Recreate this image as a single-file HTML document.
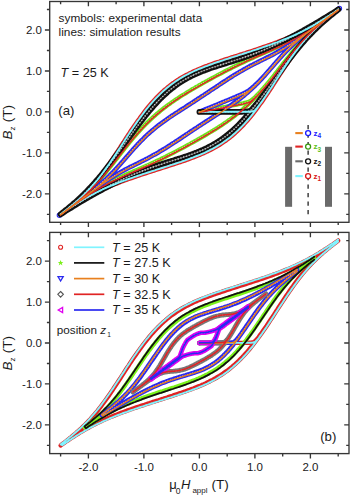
<!DOCTYPE html><html><head><meta charset="utf-8"><style>html,body{margin:0;padding:0;background:#fff;}svg{display:block;}</style></head><body><svg width="350" height="497" viewBox="0 0 350 497">
<defs><clipPath id="ct"><rect x="50" y="2" width="298.5" height="220"/></clipPath><clipPath id="cb"><rect x="50" y="233" width="298.5" height="220"/></clipPath><path id="tz1" d="M338.2,9.5l-1.7,1.2 -1.8,1.3 -1.7,1.2 -1.8,1.1 -1.7,1.2 -1.8,1.2 -1.7,1.1 -1.8,1.1 -1.7,1.1 -1.8,1.1 -1.7,1.1 -1.8,1 -1.7,1.1 -1.7,1 -1.8,1 -1.7,.9 -1.8,1 -1.7,.9 -1.8,.9 -1.7,.9 -1.8,.9 -1.7,.8 -1.8,.9 -1.7,.8 -1.7,.8 -1.8,.8 -1.7,.7 -1.8,.8 -1.7,.7 -1.8,.7 -1.7,.7 -1.8,.7 -1.7,.7 -1.8,.7 -1.7,.7 -1.8,.6 -1.7,.6 -1.7,.7 -1.8,.6 -1.7,.6 -1.8,.6 -1.7,.6 -1.8,.6 -1.7,.6 -1.8,.6 -1.7,.6 -1.8,.6 -1.7,.5 -1.7,.6 -1.8,.6 -1.7,.5 -1.8,.6 -1.7,.6 -1.8,.5 -1.7,.6 -1.8,.5 -1.7,.6 -1.8,.6 -1.7,.5 -1.8,.6 -1.7,.5 -1.7,.6 -1.8,.6 -1.7,.5 -1.8,.6 -1.7,.6 -1.8,.6 -1.7,.6 -1.8,.5 -1.7,.6 -1.8,.6 -1.7,.7 -1.8,.6 -1.7,.6 -1.7,.7 -1.8,.6 -1.7,.7 -1.8,.7 -1.7,.7 -1.8,.7 -1.7,.8 -1.8,.7 -1.7,.8 -1.8,.9 -1.7,.8 -1.7,.9 -1.8,.9 -1.7,.9 -1.8,1 -1.7,1 -1.8,1.1 -1.7,1.1 -1.8,1.2 -1.7,1.2 -1.8,1.2 -1.7,1.3 -1.8,1.4 -1.7,1.4 -1.7,1.5 -1.8,1.5 -1.7,1.6 -1.8,1.7 -1.7,1.7 -1.8,1.8 -1.7,1.8 -1.8,2 -1.7,1.9 -1.8,2.1 -1.7,2.1 -1.8,2.2 -1.7,2.2 -1.7,2.3 -1.8,2.4 -1.7,2.4 -1.8,2.4 -1.7,2.5 -1.8,2.6 -1.7,2.5 -1.8,2.6 -1.7,2.7 -1.8,2.6 -1.7,2.7 -1.7,2.7 -1.8,2.7 -1.7,2.7 -1.8,2.7 -1.7,2.6 -1.8,2.7 -1.7,2.6 -1.8,2.6 -1.7,2.6 -1.8,2.5 -1.7,2.4 -1.8,2.5 -1.7,2.3 -1.7,2.3 -1.8,2.3 -1.7,2.2 -1.8,2.1 -1.7,2.1 -1.8,2 -1.7,1.9 -1.8,1.9 -1.7,1.8 -1.8,1.8 -1.7,1.7 -1.7,1.7 -1.8,1.6 -1.7,1.6 -1.8,1.5 -1.7,1.5 -1.8,1.5 -1.7,1.4 -1.8,1.4 -1.7,1.4 -1.8,1.4 -1.7,1.3 -1.8,1.4 -1.7,1.3 1.7,-1.2 1.8,-1.3 1.7,-1.2 1.8,-1.1 1.7,-1.2 1.8,-1.2 1.7,-1.1 1.8,-1.1 1.7,-1.1 1.8,-1.1 1.7,-1.1 1.8,-1 1.7,-1.1 1.7,-1 1.8,-1 1.7,-.9 1.8,-1 1.7,-.9 1.8,-.9 1.7,-.9 1.8,-.9 1.7,-.8 1.8,-.9 1.7,-.8 1.7,-.8 1.8,-.8 1.7,-.7 1.8,-.8 1.7,-.7 1.8,-.7 1.7,-.7 1.8,-.7 1.7,-.7 1.8,-.7 1.7,-.7 1.8,-.6 1.7,-.6 1.7,-.7 1.8,-.6 1.7,-.6 1.8,-.6 1.7,-.6 1.8,-.6 1.7,-.6 1.8,-.6 1.7,-.6 1.8,-.6 1.7,-.5 1.7,-.6 1.8,-.6 1.7,-.5 1.8,-.6 1.7,-.6 1.8,-.5 1.7,-.6 1.8,-.5 1.7,-.6 1.8,-.6 1.7,-.5 1.8,-.6 1.7,-.5 1.7,-.6 1.8,-.6 1.7,-.5 1.8,-.6 1.7,-.6 1.8,-.6 1.7,-.6 1.8,-.5 1.7,-.6 1.8,-.6 1.7,-.7 1.8,-.6 1.7,-.6 1.7,-.7 1.8,-.6 1.7,-.7 1.8,-.7 1.7,-.7 1.8,-.7 1.7,-.8 1.8,-.7 1.7,-.8 1.8,-.9 1.7,-.8 1.7,-.9 1.8,-.9 1.7,-.9 1.8,-1 1.7,-1 1.8,-1.1 1.7,-1.1 1.8,-1.2 1.7,-1.2 1.8,-1.2 1.7,-1.3 1.8,-1.4 1.7,-1.4 1.7,-1.5 1.8,-1.5 1.7,-1.6 1.8,-1.7 1.7,-1.7 1.8,-1.8 1.7,-1.8 1.8,-2 1.7,-1.9 1.8,-2.1 1.7,-2.1 1.8,-2.2 1.7,-2.2 1.7,-2.3 1.8,-2.4 1.7,-2.4 1.8,-2.4 1.7,-2.5 1.8,-2.6 1.7,-2.5 1.8,-2.6 1.7,-2.7 1.8,-2.6 1.7,-2.7 1.7,-2.7 1.8,-2.7 1.7,-2.7 1.8,-2.7 1.7,-2.6 1.8,-2.7 1.7,-2.6 1.8,-2.6 1.7,-2.6 1.8,-2.5 1.7,-2.4 1.8,-2.5 1.7,-2.3 1.7,-2.3 1.8,-2.3 1.7,-2.2 1.8,-2.1 1.7,-2.1 1.8,-2 1.7,-1.9 1.8,-1.9 1.7,-1.8 1.8,-1.8 1.7,-1.7 1.7,-1.7 1.8,-1.6 1.7,-1.6 1.8,-1.5 1.7,-1.5 1.8,-1.5 1.7,-1.4 1.8,-1.4 1.7,-1.4 1.8,-1.4 1.7,-1.3 1.8,-1.4 1.7,-1.3M199.4,111.9l1.6,0 1.5,0 1.6,0 1.5,0 1.6,0 1.6,0 1.5,0 1.6,0 1.5,0 1.6,0 1.6,0 1.5,0 1.6,0 1.5,0 1.6,0 1.6,-.1 1.5,0 1.6,0 1.5,0 1.6,0 1.6,0 1.5,0 1.6,0 1.5,0 1.6,0 1.5,0 1.6,0 1.6,0 1.5,0 1.6,0 1.5,-.1 1.6,0 1.6,-.1 1.5,-.2 1.6,-.5 1.5,-1.2 1.6,-1.8 1.6,-2 1.5,-2.1 1.6,-2.1 1.5,-2.2 1.6,-2.3 1.6,-2.3 1.5,-2.3 1.6,-2.4 1.5,-2.3 1.6,-2.4 1.6,-2.4 1.5,-2.4 1.6,-2.4 1.5,-2.4 1.6,-2.4 1.6,-2.4 1.5,-2.3 1.6,-2.4 1.5,-2.3 1.6,-2.3 1.6,-2.3 1.5,-2.2 1.6,-2.2 1.5,-2.2 1.6,-2.1 1.6,-2 1.5,-2.1 1.6,-1.9 1.5,-2 1.6,-1.8 1.5,-1.9 1.6,-1.8 1.6,-1.7 1.5,-1.7 1.6,-1.6 1.5,-1.6 1.6,-1.5 1.6,-1.6 1.5,-1.4 1.6,-1.5 1.5,-1.4 1.6,-1.3 1.6,-1.4 1.5,-1.3 1.6,-1.3 1.5,-1.2 1.6,-1.3 1.6,-1.2 1.5,-1.2 1.6,-1.2 1.5,-1.2 1.6,-1.2"/><path id="tz3" d="M338.2,9.5l-1.7,1.3 -1.8,1.3 -1.7,1.3 -1.8,1.2 -1.7,1.3 -1.8,1.3 -1.7,1.2 -1.8,1.3 -1.7,1.2 -1.8,1.2 -1.7,1.3 -1.8,1.2 -1.7,1.2 -1.7,1.1 -1.8,1.2 -1.7,1.1 -1.8,1.2 -1.7,1.1 -1.8,1.1 -1.7,1 -1.8,1.1 -1.7,1 -1.8,1 -1.7,1 -1.7,.9 -1.8,1 -1.7,.9 -1.8,.9 -1.7,.9 -1.8,.8 -1.7,.9 -1.8,.8 -1.7,.8 -1.8,.8 -1.7,.8 -1.8,.8 -1.7,.8 -1.7,.8 -1.8,.7 -1.7,.8 -1.8,.7 -1.7,.8 -1.8,.8 -1.7,.7 -1.8,.8 -1.7,.7 -1.8,.8 -1.7,.8 -1.7,.8 -1.8,.7 -1.7,.8 -1.8,.8 -1.7,.8 -1.8,.9 -1.7,.8 -1.8,.8 -1.7,.8 -1.8,.9 -1.7,.8 -1.8,.9 -1.7,.9 -1.7,.9 -1.8,.8 -1.7,.9 -1.8,.9 -1.7,.9 -1.8,1 -1.7,.9 -1.8,.9 -1.7,.9 -1.8,1 -1.7,.9 -1.8,1 -1.7,.9 -1.7,1 -1.8,.9 -1.7,1 -1.8,1 -1.7,1 -1.8,1 -1.7,1 -1.8,1 -1.7,1 -1.8,1 -1.7,1.1 -1.7,1 -1.8,1.1 -1.7,1.1 -1.8,1 -1.7,1.1 -1.8,1.2 -1.7,1.1 -1.8,1.2 -1.7,1.1 -1.8,1.2 -1.7,1.3 -1.8,1.2 -1.7,1.3 -1.7,1.3 -1.8,1.3 -1.7,1.4 -1.8,1.4 -1.7,1.5 -1.8,1.4 -1.7,1.6 -1.8,1.5 -1.7,1.6 -1.8,1.7 -1.7,1.7 -1.8,1.7 -1.7,1.8 -1.7,1.8 -1.8,1.9 -1.7,1.9 -1.8,1.9 -1.7,2 -1.8,2.1 -1.7,2 -1.8,2.1 -1.7,2.2 -1.8,2.1 -1.7,2.2 -1.7,2.2 -1.8,2.3 -1.7,2.2 -1.8,2.2 -1.7,2.3 -1.8,2.2 -1.7,2.2 -1.8,2.2 -1.7,2.2 -1.8,2.2 -1.7,2.1 -1.8,2.2 -1.7,2 -1.7,2.1 -1.8,1.9 -1.7,2 -1.8,1.9 -1.7,1.8 -1.8,1.8 -1.7,1.8 -1.8,1.7 -1.7,1.7 -1.8,1.6 -1.7,1.6 -1.7,1.5 -1.8,1.5 -1.7,1.5 -1.8,1.4 -1.7,1.5 -1.8,1.4 -1.7,1.3 -1.8,1.4 -1.7,1.3 -1.8,1.3 -1.7,1.4 -1.8,1.3 -1.7,1.3 1.7,-1.3 1.8,-1.3 1.7,-1.3 1.8,-1.2 1.7,-1.3 1.8,-1.3 1.7,-1.2 1.8,-1.3 1.7,-1.2 1.8,-1.2 1.7,-1.3 1.8,-1.2 1.7,-1.2 1.7,-1.1 1.8,-1.2 1.7,-1.1 1.8,-1.2 1.7,-1.1 1.8,-1.1 1.7,-1 1.8,-1.1 1.7,-1 1.8,-1 1.7,-1 1.7,-.9 1.8,-1 1.7,-.9 1.8,-.9 1.7,-.9 1.8,-.8 1.7,-.9 1.8,-.8 1.7,-.8 1.8,-.8 1.7,-.8 1.8,-.8 1.7,-.8 1.7,-.8 1.8,-.7 1.7,-.8 1.8,-.7 1.7,-.8 1.8,-.8 1.7,-.7 1.8,-.8 1.7,-.7 1.8,-.8 1.7,-.8 1.7,-.8 1.8,-.7 1.7,-.8 1.8,-.8 1.7,-.8 1.8,-.9 1.7,-.8 1.8,-.8 1.7,-.8 1.8,-.9 1.7,-.8 1.8,-.9 1.7,-.9 1.7,-.9 1.8,-.8 1.7,-.9 1.8,-.9 1.7,-.9 1.8,-1 1.7,-.9 1.8,-.9 1.7,-.9 1.8,-1 1.7,-.9 1.8,-1 1.7,-.9 1.7,-1 1.8,-.9 1.7,-1 1.8,-1 1.7,-1 1.8,-1 1.7,-1 1.8,-1 1.7,-1 1.8,-1 1.7,-1.1 1.7,-1 1.8,-1.1 1.7,-1.1 1.8,-1 1.7,-1.1 1.8,-1.2 1.7,-1.1 1.8,-1.2 1.7,-1.1 1.8,-1.2 1.7,-1.3 1.8,-1.2 1.7,-1.3 1.7,-1.3 1.8,-1.3 1.7,-1.4 1.8,-1.4 1.7,-1.5 1.8,-1.4 1.7,-1.6 1.8,-1.5 1.7,-1.6 1.8,-1.7 1.7,-1.7 1.8,-1.7 1.7,-1.8 1.7,-1.8 1.8,-1.9 1.7,-1.9 1.8,-1.9 1.7,-2 1.8,-2.1 1.7,-2 1.8,-2.1 1.7,-2.2 1.8,-2.1 1.7,-2.2 1.7,-2.2 1.8,-2.3 1.7,-2.2 1.8,-2.2 1.7,-2.3 1.8,-2.2 1.7,-2.2 1.8,-2.2 1.7,-2.2 1.8,-2.2 1.7,-2.1 1.8,-2.2 1.7,-2 1.7,-2.1 1.8,-1.9 1.7,-2 1.8,-1.9 1.7,-1.8 1.8,-1.8 1.7,-1.8 1.8,-1.7 1.7,-1.7 1.8,-1.6 1.7,-1.6 1.7,-1.5 1.8,-1.5 1.7,-1.5 1.8,-1.4 1.7,-1.5 1.8,-1.4 1.7,-1.3 1.8,-1.4 1.7,-1.3 1.8,-1.3 1.7,-1.4 1.8,-1.3 1.7,-1.3M199.4,111.9l1.6,-.4 1.5,-.3 1.6,-.3 1.5,-.3 1.6,-.3 1.6,-.3 1.5,-.3 1.6,-.3 1.5,-.3 1.6,-.3 1.6,-.3 1.5,-.3 1.6,-.3 1.5,-.3 1.6,-.3 1.6,-.3 1.5,-.3 1.6,-.3 1.5,-.3 1.6,-.3 1.6,-.3 1.5,-.3 1.6,-.3 1.5,-.3 1.6,-.4 1.5,-.3 1.6,-.3 1.6,-.3 1.5,-.4 1.6,-.4 1.5,-.4 1.6,-.6 1.6,-.8 1.5,-1.2 1.6,-1.3 1.5,-1.5 1.6,-1.6 1.6,-1.6 1.5,-1.7 1.6,-1.8 1.5,-1.7 1.6,-1.8 1.6,-1.9 1.5,-1.8 1.6,-1.9 1.5,-1.9 1.6,-2 1.6,-1.9 1.5,-2 1.6,-2 1.5,-2 1.6,-2 1.6,-2 1.5,-2 1.6,-2 1.5,-1.9 1.6,-2 1.6,-2 1.5,-1.9 1.6,-1.9 1.5,-1.9 1.6,-1.8 1.6,-1.8 1.5,-1.8 1.6,-1.8 1.5,-1.7 1.6,-1.7 1.5,-1.6 1.6,-1.6 1.6,-1.6 1.5,-1.5 1.6,-1.5 1.5,-1.4 1.6,-1.5 1.6,-1.4 1.5,-1.3 1.6,-1.4 1.5,-1.3 1.6,-1.3 1.6,-1.2 1.5,-1.3 1.6,-1.2 1.5,-1.2 1.6,-1.2 1.6,-1.2 1.5,-1.2 1.6,-1.2 1.5,-1.1 1.6,-1.2"/><path id="tz4" d="M338.2,9.5l-1.7,1.3 -1.8,1.3 -1.7,1.3 -1.8,1.3 -1.7,1.3 -1.8,1.3 -1.7,1.2 -1.8,1.3 -1.7,1.3 -1.8,1.3 -1.7,1.3 -1.8,1.3 -1.7,1.3 -1.7,1.2 -1.8,1.3 -1.7,1.3 -1.8,1.3 -1.7,1.3 -1.8,1.2 -1.7,1.3 -1.8,1.3 -1.7,1.2 -1.8,1.2 -1.7,1.3 -1.7,1.2 -1.8,1.2 -1.7,1.1 -1.8,1.2 -1.7,1.1 -1.8,1.1 -1.7,1.1 -1.8,1.1 -1.7,1 -1.8,1 -1.7,1 -1.8,.9 -1.7,1 -1.7,.9 -1.8,.9 -1.7,.9 -1.8,.8 -1.7,.9 -1.8,.9 -1.7,.8 -1.8,.9 -1.7,.9 -1.8,.9 -1.7,.8 -1.7,.9 -1.8,.9 -1.7,1 -1.8,.9 -1.7,1 -1.8,.9 -1.7,1 -1.8,1 -1.7,1.1 -1.8,1 -1.7,1.1 -1.8,1 -1.7,1.1 -1.7,1.1 -1.8,1.1 -1.7,1.2 -1.8,1.1 -1.7,1.1 -1.8,1.2 -1.7,1.1 -1.8,1.2 -1.7,1.2 -1.8,1.1 -1.7,1.2 -1.8,1.1 -1.7,1.2 -1.7,1.2 -1.8,1.1 -1.7,1.2 -1.8,1.1 -1.7,1.2 -1.8,1.1 -1.7,1.2 -1.8,1.1 -1.7,1.2 -1.8,1.1 -1.7,1.1 -1.7,1.1 -1.8,1.2 -1.7,1.1 -1.8,1.1 -1.7,1.1 -1.8,1.2 -1.7,1.1 -1.8,1.1 -1.7,1.2 -1.8,1.1 -1.7,1.2 -1.8,1.2 -1.7,1.2 -1.7,1.2 -1.8,1.3 -1.7,1.2 -1.8,1.3 -1.7,1.3 -1.8,1.4 -1.7,1.4 -1.8,1.5 -1.7,1.4 -1.8,1.6 -1.7,1.5 -1.8,1.7 -1.7,1.6 -1.7,1.8 -1.8,1.7 -1.7,1.8 -1.8,1.9 -1.7,1.9 -1.8,1.9 -1.7,2 -1.8,2 -1.7,2 -1.8,2 -1.7,2 -1.7,2 -1.8,2 -1.7,2 -1.8,2 -1.7,1.9 -1.8,1.9 -1.7,1.8 -1.8,1.8 -1.7,1.8 -1.8,1.7 -1.7,1.7 -1.8,1.6 -1.7,1.5 -1.7,1.6 -1.8,1.4 -1.7,1.5 -1.8,1.4 -1.7,1.4 -1.8,1.4 -1.7,1.3 -1.8,1.4 -1.7,1.3 -1.8,1.3 -1.7,1.3 -1.7,1.3 -1.8,1.3 -1.7,1.3 -1.8,1.3 -1.7,1.3 -1.8,1.3 -1.7,1.2 -1.8,1.3 -1.7,1.3 -1.8,1.3 -1.7,1.3 -1.8,1.3 -1.7,1.3 1.7,-1.3 1.8,-1.3 1.7,-1.3 1.8,-1.3 1.7,-1.3 1.8,-1.3 1.7,-1.2 1.8,-1.3 1.7,-1.3 1.8,-1.3 1.7,-1.3 1.8,-1.3 1.7,-1.3 1.7,-1.2 1.8,-1.3 1.7,-1.3 1.8,-1.3 1.7,-1.3 1.8,-1.2 1.7,-1.3 1.8,-1.3 1.7,-1.2 1.8,-1.2 1.7,-1.3 1.7,-1.2 1.8,-1.2 1.7,-1.1 1.8,-1.2 1.7,-1.1 1.8,-1.1 1.7,-1.1 1.8,-1.1 1.7,-1 1.8,-1 1.7,-1 1.8,-.9 1.7,-1 1.7,-.9 1.8,-.9 1.7,-.9 1.8,-.8 1.7,-.9 1.8,-.9 1.7,-.8 1.8,-.9 1.7,-.9 1.8,-.9 1.7,-.8 1.7,-.9 1.8,-.9 1.7,-1 1.8,-.9 1.7,-1 1.8,-.9 1.7,-1 1.8,-1 1.7,-1.1 1.8,-1 1.7,-1.1 1.8,-1 1.7,-1.1 1.7,-1.1 1.8,-1.1 1.7,-1.2 1.8,-1.1 1.7,-1.1 1.8,-1.2 1.7,-1.1 1.8,-1.2 1.7,-1.2 1.8,-1.1 1.7,-1.2 1.8,-1.1 1.7,-1.2 1.7,-1.2 1.8,-1.1 1.7,-1.2 1.8,-1.1 1.7,-1.2 1.8,-1.1 1.7,-1.2 1.8,-1.1 1.7,-1.2 1.8,-1.1 1.7,-1.1 1.7,-1.1 1.8,-1.2 1.7,-1.1 1.8,-1.1 1.7,-1.1 1.8,-1.2 1.7,-1.1 1.8,-1.1 1.7,-1.2 1.8,-1.1 1.7,-1.2 1.8,-1.2 1.7,-1.2 1.7,-1.2 1.8,-1.3 1.7,-1.2 1.8,-1.3 1.7,-1.3 1.8,-1.4 1.7,-1.4 1.8,-1.5 1.7,-1.4 1.8,-1.6 1.7,-1.5 1.8,-1.7 1.7,-1.6 1.7,-1.8 1.8,-1.7 1.7,-1.8 1.8,-1.9 1.7,-1.9 1.8,-1.9 1.7,-2 1.8,-2 1.7,-2 1.8,-2 1.7,-2 1.7,-2 1.8,-2 1.7,-2 1.8,-2 1.7,-1.9 1.8,-1.9 1.7,-1.8 1.8,-1.8 1.7,-1.8 1.8,-1.7 1.7,-1.7 1.8,-1.6 1.7,-1.5 1.7,-1.6 1.8,-1.4 1.7,-1.5 1.8,-1.4 1.7,-1.4 1.8,-1.4 1.7,-1.3 1.8,-1.4 1.7,-1.3 1.8,-1.3 1.7,-1.3 1.7,-1.3 1.8,-1.3 1.7,-1.3 1.8,-1.3 1.7,-1.3 1.8,-1.3 1.7,-1.2 1.8,-1.3 1.7,-1.3 1.8,-1.3 1.7,-1.3 1.8,-1.3 1.7,-1.3M199.4,111.9l1.6,-.7 1.5,-.7 1.6,-.6 1.5,-.7 1.6,-.6 1.6,-.6 1.5,-.7 1.6,-.6 1.5,-.6 1.6,-.7 1.6,-.6 1.5,-.6 1.6,-.7 1.5,-.6 1.6,-.7 1.6,-.6 1.5,-.7 1.6,-.6 1.5,-.6 1.6,-.7 1.6,-.6 1.5,-.7 1.6,-.6 1.5,-.7 1.6,-.7 1.5,-.7 1.6,-.7 1.6,-.7 1.5,-.7 1.6,-.9 1.5,-.9 1.6,-1 1.6,-1.2 1.5,-1.3 1.6,-1.4 1.5,-1.4 1.6,-1.5 1.6,-1.6 1.5,-1.6 1.6,-1.6 1.5,-1.7 1.6,-1.7 1.6,-1.8 1.5,-1.7 1.6,-1.8 1.5,-1.8 1.6,-1.8 1.6,-1.8 1.5,-1.8 1.6,-1.7 1.5,-1.8 1.6,-1.8 1.6,-1.7 1.5,-1.7 1.6,-1.6 1.5,-1.7 1.6,-1.5 1.6,-1.6 1.5,-1.5 1.6,-1.5 1.5,-1.4 1.6,-1.4 1.6,-1.4 1.5,-1.3 1.6,-1.3 1.5,-1.3 1.6,-1.2 1.5,-1.3 1.6,-1.2 1.6,-1.2 1.5,-1.2 1.6,-1.2 1.5,-1.2 1.6,-1.1 1.6,-1.2 1.5,-1.1 1.6,-1.2 1.5,-1.2 1.6,-1.1 1.6,-1.2 1.5,-1.1 1.6,-1.2 1.5,-1.1 1.6,-1.2 1.6,-1.1 1.5,-1.2 1.6,-1.1 1.5,-1.2 1.6,-1.1"/><path id="tz2" d="M338.2,9.5l-1.7,1.1 -1.8,1.2 -1.7,1.1 -1.8,1.1 -1.7,1 -1.8,1.1 -1.7,1.1 -1.8,1.1 -1.7,1 -1.8,1.1 -1.7,1.1 -1.8,1 -1.7,1 -1.7,1.1 -1.8,1 -1.7,1 -1.8,1 -1.7,1 -1.8,1 -1.7,1 -1.8,.9 -1.7,1 -1.8,.9 -1.7,1 -1.7,.9 -1.8,.9 -1.7,.9 -1.8,.9 -1.7,.9 -1.8,.9 -1.7,.9 -1.8,.8 -1.7,.9 -1.8,.8 -1.7,.8 -1.8,.8 -1.7,.8 -1.7,.8 -1.8,.8 -1.7,.8 -1.8,.7 -1.7,.8 -1.8,.7 -1.7,.7 -1.8,.7 -1.7,.7 -1.8,.7 -1.7,.6 -1.7,.7 -1.8,.6 -1.7,.7 -1.8,.6 -1.7,.6 -1.8,.6 -1.7,.6 -1.8,.6 -1.7,.6 -1.8,.5 -1.7,.6 -1.8,.6 -1.7,.5 -1.7,.6 -1.8,.5 -1.7,.6 -1.8,.5 -1.7,.6 -1.8,.5 -1.7,.6 -1.8,.5 -1.7,.6 -1.8,.6 -1.7,.5 -1.8,.6 -1.7,.6 -1.7,.7 -1.8,.6 -1.7,.7 -1.8,.6 -1.7,.7 -1.8,.8 -1.7,.7 -1.8,.8 -1.7,.8 -1.8,.9 -1.7,.9 -1.7,.9 -1.8,1 -1.7,1 -1.8,1 -1.7,1.1 -1.8,1.1 -1.7,1.2 -1.8,1.3 -1.7,1.3 -1.8,1.3 -1.7,1.4 -1.8,1.4 -1.7,1.6 -1.7,1.5 -1.8,1.6 -1.7,1.7 -1.8,1.7 -1.7,1.8 -1.8,1.9 -1.7,1.9 -1.8,1.9 -1.7,2 -1.8,2 -1.7,2.1 -1.8,2.2 -1.7,2.2 -1.7,2.2 -1.8,2.3 -1.7,2.3 -1.8,2.3 -1.7,2.3 -1.8,2.4 -1.7,2.4 -1.8,2.4 -1.7,2.5 -1.8,2.4 -1.7,2.4 -1.7,2.5 -1.8,2.4 -1.7,2.5 -1.8,2.4 -1.7,2.4 -1.8,2.4 -1.7,2.4 -1.8,2.3 -1.7,2.3 -1.8,2.3 -1.7,2.3 -1.8,2.2 -1.7,2.2 -1.7,2.1 -1.8,2.1 -1.7,2.1 -1.8,2 -1.7,2 -1.8,1.9 -1.7,1.9 -1.8,1.8 -1.7,1.8 -1.8,1.8 -1.7,1.7 -1.7,1.7 -1.8,1.7 -1.7,1.6 -1.8,1.6 -1.7,1.5 -1.8,1.5 -1.7,1.5 -1.8,1.5 -1.7,1.4 -1.8,1.4 -1.7,1.4 -1.8,1.4 -1.7,1.4 1.7,-1.1 1.8,-1.2 1.7,-1.1 1.8,-1.1 1.7,-1 1.8,-1.1 1.7,-1.1 1.8,-1.1 1.7,-1 1.8,-1.1 1.7,-1.1 1.8,-1 1.7,-1 1.7,-1.1 1.8,-1 1.7,-1 1.8,-1 1.7,-1 1.8,-1 1.7,-1 1.8,-.9 1.7,-1 1.8,-.9 1.7,-1 1.7,-.9 1.8,-.9 1.7,-.9 1.8,-.9 1.7,-.9 1.8,-.9 1.7,-.9 1.8,-.8 1.7,-.9 1.8,-.8 1.7,-.8 1.8,-.8 1.7,-.8 1.7,-.8 1.8,-.8 1.7,-.8 1.8,-.7 1.7,-.8 1.8,-.7 1.7,-.7 1.8,-.7 1.7,-.7 1.8,-.7 1.7,-.6 1.7,-.7 1.8,-.6 1.7,-.7 1.8,-.6 1.7,-.6 1.8,-.6 1.7,-.6 1.8,-.6 1.7,-.6 1.8,-.5 1.7,-.6 1.8,-.6 1.7,-.5 1.7,-.6 1.8,-.5 1.7,-.6 1.8,-.5 1.7,-.6 1.8,-.5 1.7,-.6 1.8,-.5 1.7,-.6 1.8,-.6 1.7,-.5 1.8,-.6 1.7,-.6 1.7,-.7 1.8,-.6 1.7,-.7 1.8,-.6 1.7,-.7 1.8,-.8 1.7,-.7 1.8,-.8 1.7,-.8 1.8,-.9 1.7,-.9 1.7,-.9 1.8,-1 1.7,-1 1.8,-1 1.7,-1.1 1.8,-1.1 1.7,-1.2 1.8,-1.3 1.7,-1.3 1.8,-1.3 1.7,-1.4 1.8,-1.4 1.7,-1.6 1.7,-1.5 1.8,-1.6 1.7,-1.7 1.8,-1.7 1.7,-1.8 1.8,-1.9 1.7,-1.9 1.8,-1.9 1.7,-2 1.8,-2 1.7,-2.1 1.8,-2.2 1.7,-2.2 1.7,-2.2 1.8,-2.3 1.7,-2.3 1.8,-2.3 1.7,-2.3 1.8,-2.4 1.7,-2.4 1.8,-2.4 1.7,-2.5 1.8,-2.4 1.7,-2.4 1.7,-2.5 1.8,-2.4 1.7,-2.5 1.8,-2.4 1.7,-2.4 1.8,-2.4 1.7,-2.4 1.8,-2.3 1.7,-2.3 1.8,-2.3 1.7,-2.3 1.8,-2.2 1.7,-2.2 1.7,-2.1 1.8,-2.1 1.7,-2.1 1.8,-2 1.7,-2 1.8,-1.9 1.7,-1.9 1.8,-1.8 1.7,-1.8 1.8,-1.8 1.7,-1.7 1.7,-1.7 1.8,-1.7 1.7,-1.6 1.8,-1.6 1.7,-1.5 1.8,-1.5 1.7,-1.5 1.8,-1.5 1.7,-1.4 1.8,-1.4 1.7,-1.4 1.8,-1.4 1.7,-1.4M199.4,111.9l1.6,0 1.5,0 1.6,0 1.5,0 1.6,0 1.6,0 1.5,0 1.6,0 1.5,0 1.6,0 1.6,0 1.5,-.1 1.6,0 1.5,0 1.6,0 1.6,0 1.5,0 1.6,0 1.5,0 1.6,0 1.6,0 1.5,0 1.6,0 1.5,0 1.6,0 1.5,0 1.6,0 1.6,-.1 1.5,0 1.6,-.1 1.5,-.1 1.6,-.4 1.6,-.8 1.5,-1.5 1.6,-1.8 1.5,-1.8 1.6,-2 1.6,-2 1.5,-2.1 1.6,-2 1.5,-2.1 1.6,-2.1 1.6,-2.2 1.5,-2.1 1.6,-2.2 1.5,-2.2 1.6,-2.1 1.6,-2.2 1.5,-2.2 1.6,-2.2 1.5,-2.1 1.6,-2.2 1.6,-2.2 1.5,-2.1 1.6,-2.1 1.5,-2.1 1.6,-2.1 1.6,-2.1 1.5,-2 1.6,-2 1.5,-2 1.6,-1.9 1.6,-1.9 1.5,-1.9 1.6,-1.9 1.5,-1.8 1.6,-1.8 1.5,-1.7 1.6,-1.8 1.6,-1.6 1.5,-1.7 1.6,-1.6 1.5,-1.6 1.6,-1.6 1.6,-1.5 1.5,-1.5 1.6,-1.4 1.5,-1.5 1.6,-1.4 1.6,-1.4 1.5,-1.3 1.6,-1.4 1.5,-1.3 1.6,-1.3 1.6,-1.2 1.5,-1.3 1.6,-1.2 1.5,-1.3 1.6,-1.2"/><path id="b25" d="M338.2,240.6l-1.7,1.2 -1.8,1.3 -1.7,1.2 -1.8,1.1 -1.7,1.2 -1.8,1.2 -1.7,1.1 -1.8,1.1 -1.7,1.1 -1.8,1.1 -1.7,1.1 -1.8,1 -1.7,1.1 -1.7,1 -1.8,1 -1.7,.9 -1.8,1 -1.7,.9 -1.8,.9 -1.7,.9 -1.8,.9 -1.7,.8 -1.8,.9 -1.7,.8 -1.7,.8 -1.8,.8 -1.7,.7 -1.8,.8 -1.7,.7 -1.8,.7 -1.7,.7 -1.8,.7 -1.7,.7 -1.8,.7 -1.7,.7 -1.8,.6 -1.7,.6 -1.7,.7 -1.8,.6 -1.7,.6 -1.8,.6 -1.7,.6 -1.8,.6 -1.7,.6 -1.8,.6 -1.7,.6 -1.8,.6 -1.7,.5 -1.7,.6 -1.8,.6 -1.7,.5 -1.8,.6 -1.7,.6 -1.8,.5 -1.7,.6 -1.8,.5 -1.7,.6 -1.8,.6 -1.7,.5 -1.8,.6 -1.7,.5 -1.7,.6 -1.8,.6 -1.7,.5 -1.8,.6 -1.7,.6 -1.8,.6 -1.7,.6 -1.8,.5 -1.7,.6 -1.8,.6 -1.7,.7 -1.8,.6 -1.7,.6 -1.7,.7 -1.8,.6 -1.7,.7 -1.8,.7 -1.7,.7 -1.8,.7 -1.7,.8 -1.8,.7 -1.7,.8 -1.8,.9 -1.7,.8 -1.7,.9 -1.8,.9 -1.7,.9 -1.8,1 -1.7,1 -1.8,1.1 -1.7,1.1 -1.8,1.2 -1.7,1.2 -1.8,1.2 -1.7,1.3 -1.8,1.4 -1.7,1.4 -1.7,1.5 -1.8,1.5 -1.7,1.6 -1.8,1.7 -1.7,1.7 -1.8,1.8 -1.7,1.8 -1.8,2 -1.7,1.9 -1.8,2.1 -1.7,2.1 -1.8,2.2 -1.7,2.2 -1.7,2.3 -1.8,2.4 -1.7,2.4 -1.8,2.4 -1.7,2.5 -1.8,2.6 -1.7,2.5 -1.8,2.6 -1.7,2.7 -1.8,2.6 -1.7,2.7 -1.7,2.7 -1.8,2.7 -1.7,2.7 -1.8,2.7 -1.7,2.6 -1.8,2.7 -1.7,2.6 -1.8,2.6 -1.7,2.6 -1.8,2.5 -1.7,2.4 -1.8,2.5 -1.7,2.3 -1.7,2.3 -1.8,2.3 -1.7,2.2 -1.8,2.1 -1.7,2.1 -1.8,2 -1.7,1.9 -1.8,1.9 -1.7,1.8 -1.8,1.8 -1.7,1.7 -1.7,1.7 -1.8,1.6 -1.7,1.6 -1.8,1.5 -1.7,1.5 -1.8,1.5 -1.7,1.4 -1.8,1.4 -1.7,1.4 -1.8,1.4 -1.7,1.3 -1.8,1.4 -1.7,1.3 1.7,-1.2 1.8,-1.3 1.7,-1.2 1.8,-1.1 1.7,-1.2 1.8,-1.2 1.7,-1.1 1.8,-1.1 1.7,-1.1 1.8,-1.1 1.7,-1.1 1.8,-1 1.7,-1.1 1.7,-1 1.8,-1 1.7,-.9 1.8,-1 1.7,-.9 1.8,-.9 1.7,-.9 1.8,-.9 1.7,-.8 1.8,-.9 1.7,-.8 1.7,-.8 1.8,-.8 1.7,-.7 1.8,-.8 1.7,-.7 1.8,-.7 1.7,-.7 1.8,-.7 1.7,-.7 1.8,-.7 1.7,-.7 1.8,-.6 1.7,-.6 1.7,-.7 1.8,-.6 1.7,-.6 1.8,-.6 1.7,-.6 1.8,-.6 1.7,-.6 1.8,-.6 1.7,-.6 1.8,-.6 1.7,-.5 1.7,-.6 1.8,-.6 1.7,-.5 1.8,-.6 1.7,-.6 1.8,-.5 1.7,-.6 1.8,-.5 1.7,-.6 1.8,-.6 1.7,-.5 1.8,-.6 1.7,-.5 1.7,-.6 1.8,-.6 1.7,-.5 1.8,-.6 1.7,-.6 1.8,-.6 1.7,-.6 1.8,-.5 1.7,-.6 1.8,-.6 1.7,-.7 1.8,-.6 1.7,-.6 1.7,-.7 1.8,-.6 1.7,-.7 1.8,-.7 1.7,-.7 1.8,-.7 1.7,-.8 1.8,-.7 1.7,-.8 1.8,-.9 1.7,-.8 1.7,-.9 1.8,-.9 1.7,-.9 1.8,-1 1.7,-1 1.8,-1.1 1.7,-1.1 1.8,-1.2 1.7,-1.2 1.8,-1.2 1.7,-1.3 1.8,-1.4 1.7,-1.4 1.7,-1.5 1.8,-1.5 1.7,-1.6 1.8,-1.7 1.7,-1.7 1.8,-1.8 1.7,-1.8 1.8,-2 1.7,-1.9 1.8,-2.1 1.7,-2.1 1.8,-2.2 1.7,-2.2 1.7,-2.3 1.8,-2.4 1.7,-2.4 1.8,-2.4 1.7,-2.5 1.8,-2.6 1.7,-2.5 1.8,-2.6 1.7,-2.7 1.8,-2.6 1.7,-2.7 1.7,-2.7 1.8,-2.7 1.7,-2.7 1.8,-2.7 1.7,-2.6 1.8,-2.7 1.7,-2.6 1.8,-2.6 1.7,-2.6 1.8,-2.5 1.7,-2.4 1.8,-2.5 1.7,-2.3 1.7,-2.3 1.8,-2.3 1.7,-2.2 1.8,-2.1 1.7,-2.1 1.8,-2 1.7,-1.9 1.8,-1.9 1.7,-1.8 1.8,-1.8 1.7,-1.7 1.7,-1.7 1.8,-1.6 1.7,-1.6 1.8,-1.5 1.7,-1.5 1.8,-1.5 1.7,-1.4 1.8,-1.4 1.7,-1.4 1.8,-1.4 1.7,-1.3 1.8,-1.4 1.7,-1.3M199.4,343.0l1.6,0 1.5,0 1.6,0 1.5,0 1.6,0 1.6,0 1.5,0 1.6,0 1.5,0 1.6,0 1.6,0 1.5,0 1.6,0 1.5,0 1.6,0 1.6,-.1 1.5,0 1.6,0 1.5,0 1.6,0 1.6,0 1.5,0 1.6,0 1.5,0 1.6,0 1.5,0 1.6,0 1.6,0 1.5,0 1.6,0 1.5,-.1 1.6,0 1.6,-.1 1.5,-.2 1.6,-.5 1.5,-1.2 1.6,-1.8 1.6,-2 1.5,-2.1 1.6,-2.1 1.5,-2.2 1.6,-2.3 1.6,-2.3 1.5,-2.3 1.6,-2.4 1.5,-2.3 1.6,-2.4 1.6,-2.4 1.5,-2.4 1.6,-2.4 1.5,-2.4 1.6,-2.4 1.6,-2.4 1.5,-2.3 1.6,-2.4 1.5,-2.3 1.6,-2.3 1.6,-2.3 1.5,-2.2 1.6,-2.2 1.5,-2.2 1.6,-2.1 1.6,-2 1.5,-2.1 1.6,-1.9 1.5,-2 1.6,-1.8 1.5,-1.9 1.6,-1.8 1.6,-1.7 1.5,-1.7 1.6,-1.6 1.5,-1.6 1.6,-1.5 1.6,-1.6 1.5,-1.4 1.6,-1.5 1.5,-1.4 1.6,-1.3 1.6,-1.4 1.5,-1.3 1.6,-1.3 1.5,-1.2 1.6,-1.3 1.6,-1.2 1.5,-1.2 1.6,-1.2 1.5,-1.2 1.6,-1.2"/><path id="b27_5" d="M314.3,258.0l-1.4,1 -1.5,.9 -1.4,1 -1.5,1 -1.4,.9 -1.4,1 -1.5,.9 -1.4,.9 -1.5,.9 -1.4,.9 -1.5,.9 -1.4,.9 -1.5,.8 -1.4,.9 -1.5,.8 -1.4,.8 -1.4,.8 -1.5,.8 -1.4,.7 -1.5,.8 -1.4,.7 -1.5,.7 -1.4,.7 -1.5,.7 -1.4,.7 -1.5,.7 -1.4,.6 -1.5,.7 -1.4,.6 -1.4,.6 -1.5,.6 -1.4,.6 -1.5,.6 -1.4,.6 -1.5,.6 -1.4,.5 -1.5,.6 -1.4,.5 -1.5,.6 -1.4,.5 -1.4,.5 -1.5,.5 -1.4,.6 -1.5,.5 -1.4,.5 -1.5,.5 -1.4,.5 -1.5,.5 -1.4,.4 -1.5,.5 -1.4,.5 -1.4,.5 -1.5,.5 -1.4,.4 -1.5,.5 -1.4,.5 -1.5,.5 -1.4,.4 -1.5,.5 -1.4,.5 -1.5,.5 -1.4,.4 -1.4,.5 -1.5,.5 -1.4,.5 -1.5,.5 -1.4,.5 -1.5,.5 -1.4,.5 -1.5,.5 -1.4,.5 -1.5,.5 -1.4,.6 -1.4,.5 -1.5,.6 -1.4,.5 -1.5,.6 -1.4,.6 -1.5,.6 -1.4,.7 -1.5,.6 -1.4,.7 -1.5,.7 -1.4,.7 -1.5,.7 -1.4,.8 -1.4,.8 -1.5,.8 -1.4,.9 -1.5,.8 -1.4,1 -1.5,.9 -1.4,1 -1.5,1.1 -1.4,1 -1.5,1.2 -1.4,1.1 -1.4,1.2 -1.5,1.3 -1.4,1.3 -1.5,1.3 -1.4,1.4 -1.5,1.5 -1.4,1.5 -1.5,1.5 -1.4,1.6 -1.5,1.6 -1.4,1.7 -1.4,1.8 -1.5,1.7 -1.4,1.9 -1.5,1.8 -1.4,1.9 -1.5,2 -1.4,2 -1.5,2 -1.4,2 -1.5,2.1 -1.4,2.1 -1.4,2.1 -1.5,2.1 -1.4,2.2 -1.5,2.1 -1.4,2.2 -1.5,2.1 -1.4,2.1 -1.5,2.2 -1.4,2.1 -1.5,2.1 -1.4,2 -1.4,2.1 -1.5,2 -1.4,2 -1.5,1.9 -1.4,1.9 -1.5,1.9 -1.4,1.8 -1.5,1.7 -1.4,1.8 -1.5,1.7 -1.4,1.6 -1.5,1.6 -1.4,1.6 -1.4,1.5 -1.5,1.4 -1.4,1.5 -1.5,1.4 -1.4,1.3 -1.5,1.3 -1.4,1.3 -1.5,1.3 -1.4,1.2 -1.5,1.2 -1.4,1.2 -1.4,1.2 -1.5,1.2 -1.4,1.1 -1.5,1.1 -1.4,1.1 1.4,-.6 1.5,-.9 1.4,-1 1.5,-1 1.4,-.9 1.4,-1 1.5,-.9 1.4,-.9 1.5,-.9 1.4,-.9 1.5,-.9 1.4,-.9 1.5,-.8 1.4,-.9 1.5,-.8 1.4,-.8 1.4,-.8 1.5,-.8 1.4,-.7 1.5,-.8 1.4,-.7 1.5,-.7 1.4,-.7 1.5,-.7 1.4,-.7 1.5,-.7 1.4,-.6 1.5,-.7 1.4,-.6 1.4,-.6 1.5,-.6 1.4,-.6 1.5,-.6 1.4,-.6 1.5,-.6 1.4,-.5 1.5,-.6 1.4,-.5 1.5,-.6 1.4,-.5 1.4,-.5 1.5,-.5 1.4,-.6 1.5,-.5 1.4,-.5 1.5,-.5 1.4,-.5 1.5,-.5 1.4,-.4 1.5,-.5 1.4,-.5 1.4,-.5 1.5,-.5 1.4,-.4 1.5,-.5 1.4,-.5 1.5,-.5 1.4,-.4 1.5,-.5 1.4,-.5 1.5,-.5 1.4,-.4 1.4,-.5 1.5,-.5 1.4,-.5 1.5,-.5 1.4,-.5 1.5,-.5 1.4,-.5 1.5,-.5 1.4,-.5 1.5,-.5 1.4,-.6 1.4,-.5 1.5,-.6 1.4,-.5 1.5,-.6 1.4,-.6 1.5,-.6 1.4,-.7 1.5,-.6 1.4,-.7 1.5,-.7 1.4,-.7 1.5,-.7 1.4,-.8 1.4,-.8 1.5,-.8 1.4,-.9 1.5,-.8 1.4,-1 1.5,-.9 1.4,-1 1.5,-1.1 1.4,-1 1.5,-1.2 1.4,-1.1 1.4,-1.2 1.5,-1.3 1.4,-1.3 1.5,-1.3 1.4,-1.4 1.5,-1.5 1.4,-1.5 1.5,-1.5 1.4,-1.6 1.5,-1.6 1.4,-1.7 1.4,-1.8 1.5,-1.7 1.4,-1.9 1.5,-1.8 1.4,-1.9 1.5,-2 1.4,-2 1.5,-2 1.4,-2 1.5,-2.1 1.4,-2.1 1.4,-2.1 1.5,-2.1 1.4,-2.2 1.5,-2.1 1.4,-2.2 1.5,-2.1 1.4,-2.1 1.5,-2.2 1.4,-2.1 1.5,-2.1 1.4,-2 1.4,-2.1 1.5,-2 1.4,-2 1.5,-1.9 1.4,-1.9 1.5,-1.9 1.4,-1.8 1.5,-1.7 1.4,-1.8 1.5,-1.7 1.4,-1.6 1.5,-1.6 1.4,-1.6 1.4,-1.5 1.5,-1.4 1.4,-1.5 1.5,-1.4 1.4,-1.3 1.5,-1.3 1.4,-1.3 1.5,-1.3 1.4,-1.2 1.5,-1.2 1.4,-1.2 1.4,-1.2 1.5,-1.2 1.4,-1.1 1.5,-1.1 1.4,-1.1"/><path id="b30" d="M297.1,269.7l-1.2,.8 -1.2,.8 -1.3,.7 -1.2,.8 -1.2,.8 -1.3,.7 -1.2,.8 -1.2,.7 -1.2,.8 -1.3,.7 -1.2,.8 -1.2,.7 -1.3,.8 -1.2,.7 -1.2,.8 -1.3,.7 -1.2,.8 -1.2,.7 -1.2,.7 -1.3,.7 -1.2,.8 -1.2,.7 -1.3,.7 -1.2,.7 -1.2,.7 -1.2,.7 -1.3,.7 -1.2,.6 -1.2,.7 -1.3,.7 -1.2,.6 -1.2,.7 -1.2,.6 -1.3,.7 -1.2,.6 -1.2,.6 -1.3,.6 -1.2,.6 -1.2,.6 -1.2,.6 -1.3,.6 -1.2,.6 -1.2,.5 -1.3,.6 -1.2,.5 -1.2,.5 -1.3,.6 -1.2,.5 -1.2,.5 -1.2,.5 -1.3,.4 -1.2,.5 -1.2,.5 -1.3,.4 -1.2,.5 -1.2,.4 -1.2,.4 -1.3,.4 -1.2,.4 -1.2,.4 -1.3,.4 -1.2,.4 -1.2,.4 -1.2,.4 -1.3,.3 -1.2,.4 -1.2,.4 -1.3,.3 -1.2,.4 -1.2,.4 -1.3,.3 -1.2,.4 -1.2,.4 -1.2,.4 -1.3,.4 -1.2,.4 -1.2,.4 -1.3,.4 -1.2,.5 -1.2,.4 -1.2,.5 -1.3,.5 -1.2,.5 -1.2,.6 -1.3,.6 -1.2,.6 -1.2,.6 -1.2,.7 -1.3,.7 -1.2,.8 -1.2,.8 -1.3,.8 -1.2,.9 -1.2,.9 -1.3,1 -1.2,1 -1.2,1.1 -1.2,1.1 -1.3,1.2 -1.2,1.2 -1.2,1.3 -1.3,1.3 -1.2,1.3 -1.2,1.4 -1.2,1.5 -1.3,1.5 -1.2,1.5 -1.2,1.6 -1.3,1.6 -1.2,1.7 -1.2,1.6 -1.2,1.7 -1.3,1.8 -1.2,1.7 -1.2,1.8 -1.3,1.8 -1.2,1.8 -1.2,1.8 -1.3,1.8 -1.2,1.8 -1.2,1.8 -1.2,1.8 -1.3,1.8 -1.2,1.8 -1.2,1.7 -1.3,1.7 -1.2,1.7 -1.2,1.7 -1.2,1.6 -1.3,1.6 -1.2,1.6 -1.2,1.6 -1.3,1.5 -1.2,1.4 -1.2,1.5 -1.2,1.4 -1.3,1.4 -1.2,1.3 -1.2,1.3 -1.3,1.2 -1.2,1.3 -1.2,1.2 -1.2,1.1 -1.3,1.2 -1.2,1.1 -1.2,1.1 -1.3,1.1 -1.2,1 -1.2,1.1 -1.3,1 -1.2,1 -1.2,1 -1.2,.9 -1.3,1 -1.2,1 -1.2,.9 -1.3,.9 -1.2,1 -1.2,.9 1.2,.5 1.2,-.8 1.3,-.7 1.2,-.8 1.2,-.8 1.3,-.7 1.2,-.8 1.2,-.7 1.2,-.8 1.3,-.7 1.2,-.8 1.2,-.7 1.3,-.8 1.2,-.7 1.2,-.8 1.3,-.7 1.2,-.8 1.2,-.7 1.2,-.7 1.3,-.7 1.2,-.8 1.2,-.7 1.3,-.7 1.2,-.7 1.2,-.7 1.2,-.7 1.3,-.7 1.2,-.6 1.2,-.7 1.3,-.7 1.2,-.6 1.2,-.7 1.2,-.6 1.3,-.7 1.2,-.6 1.2,-.6 1.3,-.6 1.2,-.6 1.2,-.6 1.2,-.6 1.3,-.6 1.2,-.6 1.2,-.5 1.3,-.6 1.2,-.5 1.2,-.5 1.3,-.6 1.2,-.5 1.2,-.5 1.2,-.5 1.3,-.4 1.2,-.5 1.2,-.5 1.3,-.4 1.2,-.5 1.2,-.4 1.2,-.4 1.3,-.4 1.2,-.4 1.2,-.4 1.3,-.4 1.2,-.4 1.2,-.4 1.2,-.4 1.3,-.3 1.2,-.4 1.2,-.4 1.3,-.3 1.2,-.4 1.2,-.4 1.3,-.3 1.2,-.4 1.2,-.4 1.2,-.4 1.3,-.4 1.2,-.4 1.2,-.4 1.3,-.4 1.2,-.5 1.2,-.4 1.2,-.5 1.3,-.5 1.2,-.5 1.2,-.6 1.3,-.6 1.2,-.6 1.2,-.6 1.2,-.7 1.3,-.7 1.2,-.8 1.2,-.8 1.3,-.8 1.2,-.9 1.2,-.9 1.3,-1 1.2,-1 1.2,-1.1 1.2,-1.1 1.3,-1.2 1.2,-1.2 1.2,-1.3 1.3,-1.3 1.2,-1.3 1.2,-1.4 1.2,-1.5 1.3,-1.5 1.2,-1.5 1.2,-1.6 1.3,-1.6 1.2,-1.7 1.2,-1.6 1.2,-1.7 1.3,-1.8 1.2,-1.7 1.2,-1.8 1.3,-1.8 1.2,-1.8 1.2,-1.8 1.3,-1.8 1.2,-1.8 1.2,-1.8 1.2,-1.8 1.3,-1.8 1.2,-1.8 1.2,-1.7 1.3,-1.7 1.2,-1.7 1.2,-1.7 1.2,-1.6 1.3,-1.6 1.2,-1.6 1.2,-1.6 1.3,-1.5 1.2,-1.4 1.2,-1.5 1.2,-1.4 1.3,-1.4 1.2,-1.3 1.2,-1.3 1.3,-1.2 1.2,-1.3 1.2,-1.2 1.2,-1.1 1.3,-1.2 1.2,-1.1 1.2,-1.1 1.3,-1.1 1.2,-1 1.2,-1.1 1.3,-1 1.2,-1 1.2,-1 1.2,-.9 1.3,-1 1.2,-1 1.2,-.9 1.3,-.9 1.2,-1 1.2,-.9M199.4,343.0l1.1,-.1 1.1,0 1.1,0 1.1,0 1.1,0 1.1,0 1.1,0 1.1,0 1.1,0 1.1,0 1.1,0 1.1,0 1.1,0 1.1,0 1.1,0 1.1,0 1.1,0 1.1,0 1.1,0 1.1,0 1.1,0 1.1,0 1.1,0 1.1,0 1,-.1 1.1,0 1.1,0 1.1,-.1 1.1,0 1.1,-.2 1.1,-.2 1.1,-.5 1.1,-1 1.1,-1.2 1.1,-1.4 1.1,-1.4 1.1,-1.5 1.1,-1.5 1.1,-1.6 1.1,-1.5 1.1,-1.6 1.1,-1.6 1.1,-1.6 1.1,-1.6 1.1,-1.6 1.1,-1.6 1.1,-1.6 1.1,-1.6 1.1,-1.6 1.1,-1.6 1.1,-1.5 1.1,-1.6 1.1,-1.5 1.1,-1.5 1.1,-1.5 1.1,-1.4 1.1,-1.4 1.1,-1.4 1.1,-1.4 1.1,-1.4 1.1,-1.3 1.1,-1.2 1.1,-1.3 1.1,-1.2 1.1,-1.2 1.1,-1.2 1.1,-1.2 1.1,-1.1 1.1,-1.1 1.1,-1 1.1,-1.1 1.1,-1 1,-1 1.1,-1 1.1,-1 1.1,-.9 1.1,-.9 1.1,-1 1.1,-.9 1.1,-.9 1.1,-.8 1.1,-.9 1.1,-.9 1.1,-.8 1.1,-.9 1.1,-.8 1.1,-.9 1.1,-.8 1.1,-.8"/><path id="b32_5" d="M266.0,293.9l-.8,.6 -.9,.6 -.8,.6 -.8,.6 -.9,.7 -.8,.6 -.8,.6 -.9,.6 -.8,.6 -.9,.6 -.8,.7 -.8,.6 -.9,.6 -.8,.6 -.8,.6 -.9,.6 -.8,.6 -.9,.6 -.8,.6 -.8,.6 -.9,.6 -.8,.6 -.9,.6 -.8,.5 -.8,.6 -.9,.5 -.8,.5 -.8,.5 -.9,.4 -.8,.5 -.9,.4 -.8,.4 -.8,.3 -.9,.3 -.8,.3 -.8,.3 -.9,.2 -.8,.2 -.9,.1 -.8,.2 -.8,.1 -.9,.1 -.8,.1 -.8,.1 -.9,.1 -.8,0 -.9,.1 -.8,0 -.8,.1 -.9,.1 -.8,.1 -.9,0 -.8,.2 -.8,.1 -.9,.1 -.8,.2 -.8,.2 -.9,.2 -.8,.2 -.9,.2 -.8,.3 -.8,.2 -.9,.3 -.8,.3 -.8,.4 -.9,.3 -.8,.3 -.9,.4 -.8,.4 -.8,.4 -.9,.4 -.8,.4 -.9,.4 -.8,.4 -.8,.5 -.9,.4 -.8,.4 -.8,.5 -.9,.4 -.8,.5 -.9,.4 -.8,.5 -.8,.5 -.9,.4 -.8,.5 -.8,.4 -.9,.5 -.8,.5 -.9,.5 -.8,.5 -.8,.5 -.9,.5 -.8,.5 -.9,.5 -.8,.6 -.8,.6 -.9,.6 -.8,.6 -.8,.6 -.9,.7 -.8,.6 -.9,.8 -.8,.7 -.8,.8 -.9,.9 -.8,.8 -.8,1 -.9,.9 -.8,1 -.9,1.1 -.8,1.1 -.8,1.1 -.9,1.2 -.8,1.3 -.9,1.3 -.8,1.3 -.8,1.3 -.9,1.4 -.8,1.4 -.8,1.5 -.9,1.4 -.8,1.5 -.9,1.4 -.8,1.4 -.8,1.5 -.9,1.4 -.8,1.4 -.8,1.3 -.9,1.3 -.8,1.3 -.9,1.2 -.8,1.1 -.8,1.2 -.9,1 -.8,1 -.8,1 -.9,.9 -.8,.9 -.9,.8 -.8,.8 -.8,.8 -.9,.7 -.8,.8 -.9,.6 -.8,.7 -.8,.7 -.9,.6 -.8,.7 -.8,.6 -.9,.7 -.8,.6 -.9,.6 -.8,.6 -.8,.6 -.9,.7 -.8,.6 -.8,.6 -.9,.6 -.8,.6 .8,-.6 .9,-.6 .8,-.6 .8,-.6 .9,-.7 .8,-.6 .8,-.6 .9,-.6 .8,-.6 .9,-.6 .8,-.7 .8,-.6 .9,-.6 .8,-.6 .8,-.6 .9,-.6 .8,-.6 .9,-.6 .8,-.6 .8,-.6 .9,-.6 .8,-.6 .9,-.6 .8,-.5 .8,-.6 .9,-.5 .8,-.5 .8,-.5 .9,-.4 .8,-.5 .9,-.4 .8,-.4 .8,-.3 .9,-.3 .8,-.3 .8,-.3 .9,-.2 .8,-.2 .9,-.1 .8,-.2 .8,-.1 .9,-.1 .8,-.1 .8,-.1 .9,-.1 .8,0 .9,-.1 .8,0 .8,-.1 .9,-.1 .8,-.1 .9,0 .8,-.2 .8,-.1 .9,-.1 .8,-.2 .8,-.2 .9,-.2 .8,-.2 .9,-.2 .8,-.3 .8,-.2 .9,-.3 .8,-.3 .8,-.4 .9,-.3 .8,-.3 .9,-.4 .8,-.4 .8,-.4 .9,-.4 .8,-.4 .9,-.4 .8,-.4 .8,-.5 .9,-.4 .8,-.4 .8,-.5 .9,-.4 .8,-.5 .9,-.4 .8,-.5 .8,-.5 .9,-.4 .8,-.5 .8,-.4 .9,-.5 .8,-.5 .9,-.5 .8,-.5 .8,-.5 .9,-.5 .8,-.5 .9,-.5 .8,-.6 .8,-.6 .9,-.6 .8,-.6 .8,-.6 .9,-.7 .8,-.6 .9,-.8 .8,-.7 .8,-.8 .9,-.9 .8,-.8 .8,-1 .9,-.9 .8,-1 .9,-1.1 .8,-1.1 .8,-1.1 .9,-1.2 .8,-1.3 .9,-1.3 .8,-1.3 .8,-1.3 .9,-1.4 .8,-1.4 .8,-1.5 .9,-1.4 .8,-1.5 .9,-1.4 .8,-1.4 .8,-1.5 .9,-1.4 .8,-1.4 .8,-1.3 .9,-1.3 .8,-1.3 .9,-1.2 .8,-1.1 .8,-1.2 .9,-1 .8,-1 .8,-1 .9,-.9 .8,-.9 .9,-.8 .8,-.8 .8,-.8 .9,-.7 .8,-.8 .9,-.6 .8,-.7 .8,-.7 .9,-.6 .8,-.7 .8,-.6 .9,-.7 .8,-.6 .9,-.6 .8,-.6 .8,-.6 .9,-.7 .8,-.6 .8,-.6 .9,-.6 .8,-.6M199.4,343.0l.7,-.1 .8,0 .7,0 .8,0 .7,0 .8,0 .7,0 .8,0 .7,0 .8,0 .7,0 .8,0 .7,0 .8,0 .7,0 .8,0 .7,0 .8,0 .7,0 .8,0 .7,-.1 .8,0 .7,0 .8,0 .7,0 .8,0 .7,0 .8,-.1 .7,0 .8,-.1 .7,-.1 .8,-.1 .7,-.2 .8,-.4 .7,-.5 .7,-.8 .8,-.9 .7,-.9 .8,-1.1 .7,-1.1 .8,-1.2 .7,-1.1 .8,-1.3 .7,-1.2 .8,-1.3 .7,-1.2 .8,-1.3 .7,-1.3 .8,-1.3 .7,-1.3 .8,-1.2 .7,-1.3 .8,-1.2 .7,-1.2 .8,-1.2 .7,-1.1 .8,-1.1 .7,-1.1 .8,-1 .7,-1 .8,-1 .7,-.9 .8,-.8 .7,-.9 .8,-.8 .7,-.7 .8,-.8 .7,-.7 .8,-.6 .7,-.7 .7,-.6 .8,-.7 .7,-.6 .8,-.6 .7,-.6 .8,-.5 .7,-.6 .8,-.6 .7,-.5 .8,-.6 .7,-.5 .8,-.6 .7,-.6 .8,-.5 .7,-.6 .8,-.5 .7,-.6 .8,-.5 .7,-.6"/><path id="b35" d="M248.3,306.1l-.7,.5 -.6,.5 -.6,.4 -.6,.5 -.6,.4 -.6,.5 -.6,.4 -.7,.5 -.6,.4 -.6,.5 -.6,.4 -.6,.5 -.6,.4 -.6,.5 -.7,.4 -.6,.5 -.6,.5 -.6,.4 -.6,.5 -.6,.4 -.6,.5 -.7,.4 -.6,.5 -.6,.4 -.6,.5 -.6,.4 -.6,.5 -.7,.4 -.6,.5 -.6,.4 -.6,.5 -.6,.5 -.6,.4 -.6,.5 -.7,.4 -.6,.5 -.6,.4 -.6,.5 -.6,.4 -.6,.5 -.6,.4 -.7,.5 -.6,.4 -.6,.5 -.6,.4 -.6,.5 -.6,.4 -.6,.5 -.7,.5 -.6,.4 -.6,.5 -.6,.3 -.6,.3 -.6,.2 -.6,.2 -.7,.2 -.6,.2 -.6,.2 -.6,.2 -.6,.2 -.6,.1 -.6,.2 -.7,.2 -.6,.1 -.6,.2 -.6,.1 -.6,.1 -.6,.1 -.6,.1 -.7,.1 -.6,.1 -.6,0 -.6,0 -.6,0 -.6,.1 -.6,0 -.7,0 -.6,.1 -.6,.2 -.6,.2 -.6,.2 -.6,.2 -.7,.2 -.6,.3 -.6,.3 -.6,.3 -.6,.3 -.6,.3 -.6,.4 -.7,.4 -.6,.4 -.6,.4 -.6,.4 -.6,.4 -.6,.4 -.6,.4 -.7,.5 -.6,.4 -.6,.5 -.6,.8 -.6,.9 -.6,1 -.6,1.1 -.7,1.2 -.6,1.2 -.6,1.3 -.6,1.4 -.6,1.6 -.6,1.6 -.6,1.7 -.7,1.9 -.6,1.2 -.6,.5 -.6,.4 -.6,.5 -.6,.4 -.6,.5 -.7,.4 -.6,.5 -.6,.4 -.6,.5 -.6,.4 -.6,.5 -.6,.5 -.7,.4 -.6,.5 -.6,.4 -.6,.5 -.6,.4 -.6,.5 -.6,.4 -.7,.5 -.6,.4 -.6,.5 -.6,.4 -.6,.5 -.6,.4 -.7,.5 -.6,.5 -.6,.4 -.6,.5 -.6,.4 -.6,.5 -.6,.4 -.7,.5 -.6,.4 -.6,.5 -.6,.4 -.6,.5 -.6,.4 -.6,.5 -.7,.4 -.6,.5 -.6,.5 -.6,.4 -.6,.5 -.6,.4 -.6,.5 -.7,.4 .7,1.2 .6,-.5 .6,-.4 .6,-.5 .6,-.4 .6,-.5 .6,-.4 .7,-.5 .6,-.4 .6,-.5 .6,-.4 .6,-.5 .6,-.4 .6,-.5 .7,-.4 .6,-.5 .6,-.5 .6,-.4 .6,-.5 .6,-.4 .6,-.5 .7,-.4 .6,-.5 .6,-.4 .6,-.5 .6,-.4 .6,-.5 .7,-.4 .6,-.5 .6,-.4 .6,-.5 .6,-.5 .6,-.4 .6,-.5 .7,-.4 .6,-.5 .6,-.4 .6,-.5 .6,-.4 .6,-.5 .6,-.4 .7,-.5 .6,-.4 .6,-.5 .6,-.4 .6,-.5 .6,-.4 .6,-.5 .7,-.5 .6,-.4 .6,-.5 .6,-.3 .6,-.3 .6,-.2 .6,-.2 .7,-.2 .6,-.2 .6,-.2 .6,-.2 .6,-.2 .6,-.1 .6,-.2 .7,-.2 .6,-.1 .6,-.2 .6,-.1 .6,-.1 .6,-.1 .6,-.1 .7,-.1 .6,-.1 .6,0 .6,0 .6,0 .6,-.1 .6,0 .7,0 .6,-.1 .6,-.2 .6,-.2 .6,-.2 .6,-.2 .7,-.2 .6,-.3 .6,-.3 .6,-.3 .6,-.3 .6,-.3 .6,-.4 .7,-.4 .6,-.4 .6,-.4 .6,-.4 .6,-.4 .6,-.4 .6,-.4 .7,-.5 .6,-.4 .6,-.5 .6,-.8 .6,-.9 .6,-1 .6,-1.1 .7,-1.2 .6,-1.2 .6,-1.3 .6,-1.4 .6,-1.6 .6,-1.6 .6,-1.7 .7,-1.9 .6,-1.2 .6,-.5 .6,-.4 .6,-.5 .6,-.4 .6,-.5 .7,-.4 .6,-.5 .6,-.4 .6,-.5 .6,-.4 .6,-.5 .6,-.5 .7,-.4 .6,-.5 .6,-.4 .6,-.5 .6,-.4 .6,-.5 .6,-.4 .7,-.5 .6,-.4 .6,-.5 .6,-.4 .6,-.5 .6,-.4 .7,-.5 .6,-.5 .6,-.4 .6,-.5 .6,-.4 .6,-.5 .6,-.4 .7,-.5 .6,-.4 .6,-.5 .6,-.4 .6,-.5 .6,-.4 .6,-.5 .7,-.4 .6,-.5 .6,-.5 .6,-.4 .6,-.5 .6,-.4 .6,-.5 .7,-.4M199.4,343.0l.5,-.2 .6,0 .5,0 .6,0 .5,0 .6,0 .5,0 .6,0 .5,0 .6,0 .5,0 .6,0 .5,-.1 .6,0 .5,0 .6,0 .5,0 .6,-.1 .5,0 .6,0 .5,-.1 .6,-.1 .5,-.1 .6,-.3 .5,-.4 .6,-.7 .5,-.8 .6,-1 .5,-1 .6,-1 .5,-1.3 .6,-1.4 .5,-1.5 .6,-1.4 .5,-1.7 .6,-1.4 .5,-.5 .6,-.4 .5,-.4 .6,-.4 .5,-.4 .6,-.4 .5,-.4 .6,-.4 .5,-.4 .6,-.4 .5,-.4 .6,-.4 .5,-.4 .5,-.4 .6,-.4 .5,-.4 .6,-.4 .5,-.4 .6,-.4 .5,-.4 .6,-.4 .5,-.4 .6,-.5 .5,-.4 .6,-.4 .5,-.4 .6,-.4 .5,-.4 .6,-.4 .5,-.4 .6,-.4 .5,-.4 .6,-.4 .5,-.4 .6,-.4 .5,-.4 .6,-.4 .5,-.4 .6,-.4 .5,-.4 .6,-.4 .5,-.4 .6,-.4 .5,-.4 .6,-.4 .5,-.4 .6,-.5 .5,-.4 .6,-.4 .5,-.4 .6,-.4 .5,-.4 .6,-.4"/></defs>
<g fill="none" stroke-linecap="round" stroke-linejoin="round" clip-path="url(#ct)"><use href="#tz1" stroke="#e02424" stroke-width="4.4"/><use href="#tz3" stroke="#6ee21a" stroke-width="4.2"/><use href="#tz3" stroke="#fff" stroke-width="1.3" stroke-dasharray="0 2.6"/><use href="#tz4" stroke="#2a2af0" stroke-width="4.6"/><use href="#tz4" stroke="#fff" stroke-width="1.3" stroke-dasharray="0 2.6"/><circle cx="339.4" cy="8.6" r="2.2" stroke="#2a2af0" stroke-width="1.1"/><circle cx="59.4" cy="215.2" r="2.2" stroke="#2a2af0" stroke-width="1.1"/><use href="#tz2" stroke="#111" stroke-width="5.8"/><use href="#tz2" stroke="#fff" stroke-width="1.6" stroke-dasharray="0 2.9"/><path d="M338.2,9.5l-1.7,1.1 -1.8,1.2 -1.7,1.1 -1.8,1.1 -1.7,1 -1.8,1.1 -1.7,1.1 -1.8,1.1 -1.7,1 -1.8,1.1 -1.7,1.1 -1.8,1 -1.7,1 -1.7,1.1 -1.8,1 -1.7,1 -1.8,1 -1.7,1 -1.8,1 -1.7,1 -1.8,.9 -1.7,1 -1.8,.9 -1.7,1 -1.7,.9 -1.8,.9 -1.7,.9 -1.8,.9 -1.7,.9 -1.8,.9 -1.7,.9 -1.8,.8 -1.7,.9 -1.8,.8 -1.7,.8 -1.8,.8 -1.7,.8 -1.7,.8 -1.8,.8 -1.7,.8 -1.8,.7 -1.7,.8 -1.8,.7 -1.7,.7 -1.8,.7 -1.7,.7 -1.8,.7 -1.7,.6 -1.7,.7 -1.8,.6 -1.7,.7 -1.8,.6 -1.7,.6 -1.8,.6 -1.7,.6 -1.8,.6 -1.7,.6 -1.8,.5 -1.7,.6 -1.8,.6 -1.7,.5 -1.7,.6 -1.8,.5 -1.7,.6 -1.8,.5 -1.7,.6 -1.8,.5 -1.7,.6 -1.8,.5 -1.7,.6 -1.8,.6 -1.7,.5 -1.8,.6 -1.7,.6 -1.7,.7 -1.8,.6 -1.7,.7 -1.8,.6 -1.7,.7 -1.8,.8 -1.7,.7 -1.8,.8 -1.7,.8 -1.8,.9 -1.7,.9 -1.7,.9 -1.8,1 -1.7,1 -1.8,1 -1.7,1.1 -1.8,1.1 -1.7,1.2 -1.8,1.3 -1.7,1.3 -1.8,1.3 -1.7,1.4 -1.8,1.4 -1.7,1.6 -1.7,1.5 -1.8,1.6 -1.7,1.7 -1.8,1.7 -1.7,1.8 -1.8,1.9 -1.7,1.9 -1.8,1.9 -1.7,2 -1.8,2 -1.7,2.1 -1.8,2.2 -1.7,2.2 -1.7,2.2 -1.8,2.3 -1.7,2.3 -1.8,2.3 -1.7,2.3 -1.8,2.4 -1.7,2.4 -1.8,2.4 -1.7,2.5 -1.8,2.4 -1.7,2.4 -1.7,2.5 -1.8,2.4 -1.7,2.5 -1.8,2.4 -1.7,2.4 -1.8,2.4 -1.7,2.4 -1.8,2.3 -1.7,2.3 -1.8,2.3 -1.7,2.3 -1.8,2.2 -1.7,2.2 -1.7,2.1 -1.8,2.1 -1.7,2.1 -1.8,2 -1.7,2 -1.8,1.9 -1.7,1.9 -1.8,1.8 -1.7,1.8 -1.8,1.8 -1.7,1.7 -1.7,1.7 -1.8,1.7 -1.7,1.6 -1.8,1.6 -1.7,1.5 -1.8,1.5 -1.7,1.5 -1.8,1.5 -1.7,1.4 -1.8,1.4 -1.7,1.4 -1.8,1.4 -1.7,1.4 1.7,-1.1 1.8,-1.2 1.7,-1.1 1.8,-1.1 1.7,-1 1.8,-1.1 1.7,-1.1 1.8,-1.1 1.7,-1 1.8,-1.1 1.7,-1.1 1.8,-1 1.7,-1 1.7,-1.1 1.8,-1 1.7,-1 1.8,-1 1.7,-1 1.8,-1 1.7,-1 1.8,-.9 1.7,-1 1.8,-.9 1.7,-1 1.7,-.9 1.8,-.9 1.7,-.9 1.8,-.9 1.7,-.9 1.8,-.9 1.7,-.9 1.8,-.8 1.7,-.9 1.8,-.8 1.7,-.8 1.8,-.8 1.7,-.8 1.7,-.8 1.8,-.8 1.7,-.8 1.8,-.7 1.7,-.8 1.8,-.7 1.7,-.7 1.8,-.7 1.7,-.7 1.8,-.7 1.7,-.6 1.7,-.7 1.8,-.6 1.7,-.7 1.8,-.6 1.7,-.6 1.8,-.6 1.7,-.6 1.8,-.6 1.7,-.6 1.8,-.5 1.7,-.6 1.8,-.6 1.7,-.5 1.7,-.6 1.8,-.5 1.7,-.6 1.8,-.5 1.7,-.6 1.8,-.5 1.7,-.6 1.8,-.5 1.7,-.6 1.8,-.6 1.7,-.5 1.8,-.6 1.7,-.6 1.7,-.7 1.8,-.6 1.7,-.7 1.8,-.6 1.7,-.7 1.8,-.8 1.7,-.7 1.8,-.8 1.7,-.8 1.8,-.9 1.7,-.9 1.7,-.9 1.8,-1 1.7,-1 1.8,-1 1.7,-1.1 1.8,-1.1 1.7,-1.2 1.8,-1.3 1.7,-1.3 1.8,-1.3 1.7,-1.4 1.8,-1.4 1.7,-1.6 1.7,-1.5 1.8,-1.6 1.7,-1.7 1.8,-1.7 1.7,-1.8 1.8,-1.9 1.7,-1.9 1.8,-1.9 1.7,-2 1.8,-2 1.7,-2.1 1.8,-2.2 1.7,-2.2 1.7,-2.2 1.8,-2.3 1.7,-2.3 1.8,-2.3 1.7,-2.3 1.8,-2.4 1.7,-2.4 1.8,-2.4 1.7,-2.5 1.8,-2.4 1.7,-2.4 1.7,-2.5 1.8,-2.4 1.7,-2.5 1.8,-2.4 1.7,-2.4 1.8,-2.4 1.7,-2.4 1.8,-2.3 1.7,-2.3 1.8,-2.3 1.7,-2.3 1.8,-2.2 1.7,-2.2 1.7,-2.1 1.8,-2.1 1.7,-2.1 1.8,-2 1.7,-2 1.8,-1.9 1.7,-1.9 1.8,-1.8 1.7,-1.8 1.8,-1.8 1.7,-1.7 1.7,-1.7 1.8,-1.7 1.7,-1.6 1.8,-1.6 1.7,-1.5 1.8,-1.5 1.7,-1.5 1.8,-1.5 1.7,-1.4 1.8,-1.4 1.7,-1.4 1.8,-1.4 1.7,-1.4M199.4,111.9l1.6,0 1.5,0 1.6,0 1.5,0 1.6,0 1.6,0 1.5,0 1.6,0 1.5,0 1.6,0 1.6,0 1.5,-.1 1.6,0 1.5,0 1.6,0 1.6,0 1.5,0 1.6,0 1.5,0 1.6,0 1.6,0 1.5,0 1.6,0 1.5,0 1.6,0 1.5,0 1.6,0 1.6,-.1 1.5,0 1.6,-.1 1.5,-.1 1.6,-.4 1.6,-.8 1.5,-1.5 1.6,-1.8 1.5,-1.8 1.6,-2 1.6,-2 1.5,-2.1 1.6,-2 1.5,-2.1 1.6,-2.1 1.6,-2.2 1.5,-2.1 1.6,-2.2 1.5,-2.2 1.6,-2.1 1.6,-2.2 1.5,-2.2 1.6,-2.2 1.5,-2.1 1.6,-2.2 1.6,-2.2 1.5,-2.1 1.6,-2.1 1.5,-2.1 1.6,-2.1 1.6,-2.1 1.5,-2 1.6,-2 1.5,-2 1.6,-1.9 1.6,-1.9 1.5,-1.9 1.6,-1.9 1.5,-1.8 1.6,-1.8 1.5,-1.7 1.6,-1.8 1.6,-1.6 1.5,-1.7 1.6,-1.6 1.5,-1.6 1.6,-1.6 1.6,-1.5 1.5,-1.5 1.6,-1.4 1.5,-1.5 1.6,-1.4 1.6,-1.4 1.5,-1.3 1.6,-1.4 1.5,-1.3 1.6,-1.3 1.6,-1.2 1.5,-1.3 1.6,-1.2 1.5,-1.3 1.6,-1.2" stroke="#8a8a8a" stroke-width="0.8"/><path d="M338.2,9.5l-1.7,1.2 -1.8,1.3 -1.7,1.2 -1.8,1.1 -1.7,1.2 -1.8,1.2 -1.7,1.1 -1.8,1.1 -1.7,1.1 -1.8,1.1 -1.7,1.1 -1.8,1 -1.7,1.1 -1.7,1 -1.8,1 -1.7,.9 -1.8,1 -1.7,.9 -1.8,.9 -1.7,.9 -1.8,.9 -1.7,.8 -1.8,.9 -1.7,.8 -1.7,.8 -1.8,.8 -1.7,.7 -1.8,.8 -1.7,.7 -1.8,.7 -1.7,.7 -1.8,.7 -1.7,.7 -1.8,.7 -1.7,.7 -1.8,.6 -1.7,.6 -1.7,.7 -1.8,.6 -1.7,.6 -1.8,.6 -1.7,.6 -1.8,.6 -1.7,.6 -1.8,.6 -1.7,.6 -1.8,.6 -1.7,.5 -1.7,.6 -1.8,.6 -1.7,.5 -1.8,.6 -1.7,.6 -1.8,.5 -1.7,.6 -1.8,.5 -1.7,.6 -1.8,.6 -1.7,.5 -1.8,.6 -1.7,.5 -1.7,.6 -1.8,.6 -1.7,.5 -1.8,.6 -1.7,.6 -1.8,.6 -1.7,.6 -1.8,.5 -1.7,.6 -1.8,.6 -1.7,.7 -1.8,.6 -1.7,.6 -1.7,.7 -1.8,.6 -1.7,.7 -1.8,.7 -1.7,.7 -1.8,.7 -1.7,.8 -1.8,.7 -1.7,.8 -1.8,.9 -1.7,.8 -1.7,.9 -1.8,.9 -1.7,.9 -1.8,1 -1.7,1 -1.8,1.1 -1.7,1.1 -1.8,1.2 -1.7,1.2 -1.8,1.2 -1.7,1.3 -1.8,1.4 -1.7,1.4 -1.7,1.5 -1.8,1.5 -1.7,1.6 -1.8,1.7 -1.7,1.7 -1.8,1.8 -1.7,1.8 -1.8,2 -1.7,1.9 -1.8,2.1 -1.7,2.1 -1.8,2.2 -1.7,2.2 -1.7,2.3 -1.8,2.4 -1.7,2.4 -1.8,2.4 -1.7,2.5 -1.8,2.6 -1.7,2.5 -1.8,2.6 -1.7,2.7 -1.8,2.6 -1.7,2.7 -1.7,2.7 -1.8,2.7 -1.7,2.7 -1.8,2.7 -1.7,2.6 -1.8,2.7 -1.7,2.6 -1.8,2.6 -1.7,2.6 -1.8,2.5 -1.7,2.4 -1.8,2.5 -1.7,2.3 -1.7,2.3 -1.8,2.3 -1.7,2.2 -1.8,2.1 -1.7,2.1 -1.8,2 -1.7,1.9 -1.8,1.9 -1.7,1.8 -1.8,1.8 -1.7,1.7 -1.7,1.7 -1.8,1.6 -1.7,1.6 -1.8,1.5 -1.7,1.5 -1.8,1.5 -1.7,1.4 -1.8,1.4 -1.7,1.4 -1.8,1.4 -1.7,1.3 -1.8,1.4 -1.7,1.3 1.7,-1.2 1.8,-1.3 1.7,-1.2 1.8,-1.1 1.7,-1.2 1.8,-1.2 1.7,-1.1 1.8,-1.1 1.7,-1.1 1.8,-1.1 1.7,-1.1 1.8,-1 1.7,-1.1 1.7,-1 1.8,-1 1.7,-.9 1.8,-1 1.7,-.9 1.8,-.9 1.7,-.9 1.8,-.9 1.7,-.8 1.8,-.9 1.7,-.8 1.7,-.8 1.8,-.8 1.7,-.7 1.8,-.8 1.7,-.7 1.8,-.7 1.7,-.7 1.8,-.7 1.7,-.7 1.8,-.7 1.7,-.7 1.8,-.6 1.7,-.6 1.7,-.7 1.8,-.6 1.7,-.6 1.8,-.6 1.7,-.6 1.8,-.6 1.7,-.6 1.8,-.6 1.7,-.6 1.8,-.6 1.7,-.5 1.7,-.6 1.8,-.6 1.7,-.5 1.8,-.6 1.7,-.6 1.8,-.5 1.7,-.6 1.8,-.5 1.7,-.6 1.8,-.6 1.7,-.5 1.8,-.6 1.7,-.5 1.7,-.6 1.8,-.6 1.7,-.5 1.8,-.6 1.7,-.6 1.8,-.6 1.7,-.6 1.8,-.5 1.7,-.6 1.8,-.6 1.7,-.7 1.8,-.6 1.7,-.6 1.7,-.7 1.8,-.6 1.7,-.7 1.8,-.7 1.7,-.7 1.8,-.7 1.7,-.8 1.8,-.7 1.7,-.8 1.8,-.9 1.7,-.8 1.7,-.9 1.8,-.9 1.7,-.9 1.8,-1 1.7,-1 1.8,-1.1 1.7,-1.1 1.8,-1.2 1.7,-1.2 1.8,-1.2 1.7,-1.3 1.8,-1.4 1.7,-1.4 1.7,-1.5 1.8,-1.5 1.7,-1.6 1.8,-1.7 1.7,-1.7 1.8,-1.8 1.7,-1.8 1.8,-2 1.7,-1.9 1.8,-2.1 1.7,-2.1 1.8,-2.2 1.7,-2.2 1.7,-2.3 1.8,-2.4 1.7,-2.4 1.8,-2.4 1.7,-2.5 1.8,-2.6 1.7,-2.5 1.8,-2.6 1.7,-2.7 1.8,-2.6 1.7,-2.7 1.7,-2.7 1.8,-2.7 1.7,-2.7 1.8,-2.7 1.7,-2.6 1.8,-2.7 1.7,-2.6 1.8,-2.6 1.7,-2.6 1.8,-2.5 1.7,-2.4 1.8,-2.5 1.7,-2.3 1.7,-2.3 1.8,-2.3 1.7,-2.2 1.8,-2.1 1.7,-2.1 1.8,-2 1.7,-1.9 1.8,-1.9 1.7,-1.8 1.8,-1.8 1.7,-1.7 1.7,-1.7 1.8,-1.6 1.7,-1.6 1.8,-1.5 1.7,-1.5 1.8,-1.5 1.7,-1.4 1.8,-1.4 1.7,-1.4 1.8,-1.4 1.7,-1.3 1.8,-1.4 1.7,-1.3M199.4,111.9l1.6,0 1.5,0 1.6,0 1.5,0 1.6,0 1.6,0 1.5,0 1.6,0 1.5,0 1.6,0 1.6,0 1.5,0 1.6,0 1.5,0 1.6,0 1.6,-.1 1.5,0 1.6,0 1.5,0 1.6,0 1.6,0 1.5,0 1.6,0 1.5,0 1.6,0 1.5,0 1.6,0 1.6,0 1.5,0 1.6,0 1.5,-.1 1.6,0 1.6,-.1 1.5,-.2 1.6,-.5 1.5,-1.2 1.6,-1.8 1.6,-2 1.5,-2.1 1.6,-2.1 1.5,-2.2 1.6,-2.3 1.6,-2.3 1.5,-2.3 1.6,-2.4 1.5,-2.3 1.6,-2.4 1.6,-2.4 1.5,-2.4 1.6,-2.4 1.5,-2.4 1.6,-2.4 1.6,-2.4 1.5,-2.3 1.6,-2.4 1.5,-2.3 1.6,-2.3 1.6,-2.3 1.5,-2.2 1.6,-2.2 1.5,-2.2 1.6,-2.1 1.6,-2 1.5,-2.1 1.6,-1.9 1.5,-2 1.6,-1.8 1.5,-1.9 1.6,-1.8 1.6,-1.7 1.5,-1.7 1.6,-1.6 1.5,-1.6 1.6,-1.5 1.6,-1.6 1.5,-1.4 1.6,-1.5 1.5,-1.4 1.6,-1.3 1.6,-1.4 1.5,-1.3 1.6,-1.3 1.5,-1.2 1.6,-1.3 1.6,-1.2 1.5,-1.2 1.6,-1.2 1.5,-1.2 1.6,-1.2" stroke="#80f4ff" stroke-width="1.9"/><path d="M338.2,10.1l-1.7,1.3 -1.8,1.3 -1.7,1.3 -1.8,1.2 -1.7,1.3 -1.8,1.3 -1.7,1.2 -1.8,1.3 -1.7,1.2 -1.8,1.2 -1.7,1.3 -1.8,1.2 -1.7,1.2 -1.7,1.1 -1.8,1.2 -1.7,1.1 -1.8,1.2 -1.7,1.1 -1.8,1.1 -1.7,1 -1.8,1.1 -1.7,1 -1.8,1 -1.7,1 -1.7,.9 -1.8,1 -1.7,.9 -1.8,.9 -1.7,.9 -1.8,.8 -1.7,.9 -1.8,.8 -1.7,.8 -1.8,.8 -1.7,.8 -1.8,.8 -1.7,.8 -1.7,.8 -1.8,.7 -1.7,.8 -1.8,.7 -1.7,.8 -1.8,.8 -1.7,.7 -1.8,.8 -1.7,.7 -1.8,.8 -1.7,.8 -1.7,.8 -1.8,.7 -1.7,.8 -1.8,.8 -1.7,.8 -1.8,.9 -1.7,.8 -1.8,.8 -1.7,.8 -1.8,.9 -1.7,.8 -1.8,.9 -1.7,.9 -1.7,.9 -1.8,.8 -1.7,.9 -1.8,.9 -1.7,.9 -1.8,1 -1.7,.9 -1.8,.9 -1.7,.9 -1.8,1 -1.7,.9 -1.8,1 -1.7,.9 -1.7,1 -1.8,.9 -1.7,1 -1.8,1 -1.7,1 -1.8,1 -1.7,1 -1.8,1 -1.7,1 -1.8,1 -1.7,1.1 -1.7,1 -1.8,1.1 -1.7,1.1 -1.8,1 -1.7,1.1 -1.8,1.2 -1.7,1.1 -1.8,1.2 -1.7,1.1 -1.8,1.2 -1.7,1.3 -1.8,1.2 -1.7,1.3 -1.7,1.3 -1.8,1.3 -1.7,1.4 -1.8,1.4 -1.7,1.5 -1.8,1.4 -1.7,1.6 -1.8,1.5 -1.7,1.6 -1.8,1.7 -1.7,1.7 -1.8,1.7 -1.7,1.8 -1.7,1.8 -1.8,1.9 -1.7,1.9 -1.8,1.9 -1.7,2 -1.8,2.1 -1.7,2 -1.8,2.1 -1.7,2.2 -1.8,2.1 -1.7,2.2 -1.7,2.2 -1.8,2.3 -1.7,2.2 -1.8,2.2 -1.7,2.3 -1.8,2.2 -1.7,2.2 -1.8,2.2 -1.7,2.2 -1.8,2.2 -1.7,2.1 -1.8,2.2 -1.7,2 -1.7,2.1 -1.8,1.9 -1.7,2 -1.8,1.9 -1.7,1.8 -1.8,1.8 -1.7,1.8 -1.8,1.7 -1.7,1.7 -1.8,1.6 -1.7,1.6 -1.7,1.5 -1.8,1.5 -1.7,1.5 -1.8,1.4 -1.7,1.5 -1.8,1.4 -1.7,1.3 -1.8,1.4 -1.7,1.3 -1.8,1.3 -1.7,1.4 -1.8,1.3 -1.7,1.3 1.7,-1.3 1.8,-1.3 1.7,-1.3 1.8,-1.2 1.7,-1.3 1.8,-1.3 1.7,-1.2 1.8,-1.3 1.7,-1.2 1.8,-1.2 1.7,-1.3 1.8,-1.2 1.7,-1.2 1.7,-1.1 1.8,-1.2 1.7,-1.1 1.8,-1.2 1.7,-1.1 1.8,-1.1 1.7,-1 1.8,-1.1 1.7,-1 1.8,-1 1.7,-1 1.7,-.9 1.8,-1 1.7,-.9 1.8,-.9 1.7,-.9 1.8,-.8 1.7,-.9 1.8,-.8 1.7,-.8 1.8,-.8 1.7,-.8 1.8,-.8 1.7,-.8 1.7,-.8 1.8,-.7 1.7,-.8 1.8,-.7 1.7,-.8 1.8,-.8 1.7,-.7 1.8,-.8 1.7,-.7 1.8,-.8 1.7,-.8 1.7,-.8 1.8,-.7 1.7,-.8 1.8,-.8 1.7,-.8 1.8,-.9 1.7,-.8 1.8,-.8 1.7,-.8 1.8,-.9 1.7,-.8 1.8,-.9 1.7,-.9 1.7,-.9 1.8,-.8 1.7,-.9 1.8,-.9 1.7,-.9 1.8,-1 1.7,-.9 1.8,-.9 1.7,-.9 1.8,-1 1.7,-.9 1.8,-1 1.7,-.9 1.7,-1 1.8,-.9 1.7,-1 1.8,-1 1.7,-1 1.8,-1 1.7,-1 1.8,-1 1.7,-1 1.8,-1 1.7,-1.1 1.7,-1 1.8,-1.1 1.7,-1.1 1.8,-1 1.7,-1.1 1.8,-1.2 1.7,-1.1 1.8,-1.2 1.7,-1.1 1.8,-1.2 1.7,-1.3 1.8,-1.2 1.7,-1.3 1.7,-1.3 1.8,-1.3 1.7,-1.4 1.8,-1.4 1.7,-1.5 1.8,-1.4 1.7,-1.6 1.8,-1.5 1.7,-1.6 1.8,-1.7 1.7,-1.7 1.8,-1.7 1.7,-1.8 1.7,-1.8 1.8,-1.9 1.7,-1.9 1.8,-1.9 1.7,-2 1.8,-2.1 1.7,-2 1.8,-2.1 1.7,-2.2 1.8,-2.1 1.7,-2.2 1.7,-2.2 1.8,-2.3 1.7,-2.2 1.8,-2.2 1.7,-2.3 1.8,-2.2 1.7,-2.2 1.8,-2.2 1.7,-2.2 1.8,-2.2 1.7,-2.1 1.8,-2.2 1.7,-2 1.7,-2.1 1.8,-1.9 1.7,-2 1.8,-1.9 1.7,-1.8 1.8,-1.8 1.7,-1.8 1.8,-1.7 1.7,-1.7 1.8,-1.6 1.7,-1.6 1.7,-1.5 1.8,-1.5 1.7,-1.5 1.8,-1.4 1.7,-1.5 1.8,-1.4 1.7,-1.3 1.8,-1.4 1.7,-1.3 1.8,-1.3 1.7,-1.4 1.8,-1.3 1.7,-1.3M199.4,112.5l1.6,-.4 1.5,-.3 1.6,-.3 1.5,-.3 1.6,-.3 1.6,-.3 1.5,-.3 1.6,-.3 1.5,-.3 1.6,-.3 1.6,-.3 1.5,-.3 1.6,-.3 1.5,-.3 1.6,-.3 1.6,-.3 1.5,-.3 1.6,-.3 1.5,-.3 1.6,-.3 1.6,-.3 1.5,-.3 1.6,-.3 1.5,-.3 1.6,-.4 1.5,-.3 1.6,-.3 1.6,-.3 1.5,-.4 1.6,-.4 1.5,-.4 1.6,-.6 1.6,-.8 1.5,-1.2 1.6,-1.3 1.5,-1.5 1.6,-1.6 1.6,-1.6 1.5,-1.7 1.6,-1.8 1.5,-1.7 1.6,-1.8 1.6,-1.9 1.5,-1.8 1.6,-1.9 1.5,-1.9 1.6,-2 1.6,-1.9 1.5,-2 1.6,-2 1.5,-2 1.6,-2 1.6,-2 1.5,-2 1.6,-2 1.5,-1.9 1.6,-2 1.6,-2 1.5,-1.9 1.6,-1.9 1.5,-1.9 1.6,-1.8 1.6,-1.8 1.5,-1.8 1.6,-1.8 1.5,-1.7 1.6,-1.7 1.5,-1.6 1.6,-1.6 1.6,-1.6 1.5,-1.5 1.6,-1.5 1.5,-1.4 1.6,-1.5 1.6,-1.4 1.5,-1.3 1.6,-1.4 1.5,-1.3 1.6,-1.3 1.6,-1.2 1.5,-1.3 1.6,-1.2 1.5,-1.2 1.6,-1.2 1.6,-1.2 1.5,-1.2 1.6,-1.2 1.5,-1.1 1.6,-1.2" stroke="#e02424" stroke-width="1.5"/><path d="M338.2,9.9l-1.7,1.3 -1.8,1.3 -1.7,1.3 -1.8,1.3 -1.7,1.3 -1.8,1.3 -1.7,1.2 -1.8,1.3 -1.7,1.3 -1.8,1.3 -1.7,1.3 -1.8,1.3 -1.7,1.3 -1.7,1.2 -1.8,1.3 -1.7,1.3 -1.8,1.3 -1.7,1.3 -1.8,1.2 -1.7,1.3 -1.8,1.3 -1.7,1.2 -1.8,1.2 -1.7,1.3 -1.7,1.2 -1.8,1.2 -1.7,1.1 -1.8,1.2 -1.7,1.1 -1.8,1.1 -1.7,1.1 -1.8,1.1 -1.7,1 -1.8,1 -1.7,1 -1.8,.9 -1.7,1 -1.7,.9 -1.8,.9 -1.7,.9 -1.8,.8 -1.7,.9 -1.8,.9 -1.7,.8 -1.8,.9 -1.7,.9 -1.8,.9 -1.7,.8 -1.7,.9 -1.8,.9 -1.7,1 -1.8,.9 -1.7,1 -1.8,.9 -1.7,1 -1.8,1 -1.7,1.1 -1.8,1 -1.7,1.1 -1.8,1 -1.7,1.1 -1.7,1.1 -1.8,1.1 -1.7,1.2 -1.8,1.1 -1.7,1.1 -1.8,1.2 -1.7,1.1 -1.8,1.2 -1.7,1.2 -1.8,1.1 -1.7,1.2 -1.8,1.1 -1.7,1.2 -1.7,1.2 -1.8,1.1 -1.7,1.2 -1.8,1.1 -1.7,1.2 -1.8,1.1 -1.7,1.2 -1.8,1.1 -1.7,1.2 -1.8,1.1 -1.7,1.1 -1.7,1.1 -1.8,1.2 -1.7,1.1 -1.8,1.1 -1.7,1.1 -1.8,1.2 -1.7,1.1 -1.8,1.1 -1.7,1.2 -1.8,1.1 -1.7,1.2 -1.8,1.2 -1.7,1.2 -1.7,1.2 -1.8,1.3 -1.7,1.2 -1.8,1.3 -1.7,1.3 -1.8,1.4 -1.7,1.4 -1.8,1.5 -1.7,1.4 -1.8,1.6 -1.7,1.5 -1.8,1.7 -1.7,1.6 -1.7,1.8 -1.8,1.7 -1.7,1.8 -1.8,1.9 -1.7,1.9 -1.8,1.9 -1.7,2 -1.8,2 -1.7,2 -1.8,2 -1.7,2 -1.7,2 -1.8,2 -1.7,2 -1.8,2 -1.7,1.9 -1.8,1.9 -1.7,1.8 -1.8,1.8 -1.7,1.8 -1.8,1.7 -1.7,1.7 -1.8,1.6 -1.7,1.5 -1.7,1.6 -1.8,1.4 -1.7,1.5 -1.8,1.4 -1.7,1.4 -1.8,1.4 -1.7,1.3 -1.8,1.4 -1.7,1.3 -1.8,1.3 -1.7,1.3 -1.7,1.3 -1.8,1.3 -1.7,1.3 -1.8,1.3 -1.7,1.3 -1.8,1.3 -1.7,1.2 -1.8,1.3 -1.7,1.3 -1.8,1.3 -1.7,1.3 -1.8,1.3 -1.7,1.3 1.7,-1.3 1.8,-1.3 1.7,-1.3 1.8,-1.3 1.7,-1.3 1.8,-1.3 1.7,-1.2 1.8,-1.3 1.7,-1.3 1.8,-1.3 1.7,-1.3 1.8,-1.3 1.7,-1.3 1.7,-1.2 1.8,-1.3 1.7,-1.3 1.8,-1.3 1.7,-1.3 1.8,-1.2 1.7,-1.3 1.8,-1.3 1.7,-1.2 1.8,-1.2 1.7,-1.3 1.7,-1.2 1.8,-1.2 1.7,-1.1 1.8,-1.2 1.7,-1.1 1.8,-1.1 1.7,-1.1 1.8,-1.1 1.7,-1 1.8,-1 1.7,-1 1.8,-.9 1.7,-1 1.7,-.9 1.8,-.9 1.7,-.9 1.8,-.8 1.7,-.9 1.8,-.9 1.7,-.8 1.8,-.9 1.7,-.9 1.8,-.9 1.7,-.8 1.7,-.9 1.8,-.9 1.7,-1 1.8,-.9 1.7,-1 1.8,-.9 1.7,-1 1.8,-1 1.7,-1.1 1.8,-1 1.7,-1.1 1.8,-1 1.7,-1.1 1.7,-1.1 1.8,-1.1 1.7,-1.2 1.8,-1.1 1.7,-1.1 1.8,-1.2 1.7,-1.1 1.8,-1.2 1.7,-1.2 1.8,-1.1 1.7,-1.2 1.8,-1.1 1.7,-1.2 1.7,-1.2 1.8,-1.1 1.7,-1.2 1.8,-1.1 1.7,-1.2 1.8,-1.1 1.7,-1.2 1.8,-1.1 1.7,-1.2 1.8,-1.1 1.7,-1.1 1.7,-1.1 1.8,-1.2 1.7,-1.1 1.8,-1.1 1.7,-1.1 1.8,-1.2 1.7,-1.1 1.8,-1.1 1.7,-1.2 1.8,-1.1 1.7,-1.2 1.8,-1.2 1.7,-1.2 1.7,-1.2 1.8,-1.3 1.7,-1.2 1.8,-1.3 1.7,-1.3 1.8,-1.4 1.7,-1.4 1.8,-1.5 1.7,-1.4 1.8,-1.6 1.7,-1.5 1.8,-1.7 1.7,-1.6 1.7,-1.8 1.8,-1.7 1.7,-1.8 1.8,-1.9 1.7,-1.9 1.8,-1.9 1.7,-2 1.8,-2 1.7,-2 1.8,-2 1.7,-2 1.7,-2 1.8,-2 1.7,-2 1.8,-2 1.7,-1.9 1.8,-1.9 1.7,-1.8 1.8,-1.8 1.7,-1.8 1.8,-1.7 1.7,-1.7 1.8,-1.6 1.7,-1.5 1.7,-1.6 1.8,-1.4 1.7,-1.5 1.8,-1.4 1.7,-1.4 1.8,-1.4 1.7,-1.3 1.8,-1.4 1.7,-1.3 1.8,-1.3 1.7,-1.3 1.7,-1.3 1.8,-1.3 1.7,-1.3 1.8,-1.3 1.7,-1.3 1.8,-1.3 1.7,-1.2 1.8,-1.3 1.7,-1.3 1.8,-1.3 1.7,-1.3 1.8,-1.3 1.7,-1.3M199.4,112.3l1.6,-.7 1.5,-.7 1.6,-.6 1.5,-.7 1.6,-.6 1.6,-.6 1.5,-.7 1.6,-.6 1.5,-.6 1.6,-.7 1.6,-.6 1.5,-.6 1.6,-.7 1.5,-.6 1.6,-.7 1.6,-.6 1.5,-.7 1.6,-.6 1.5,-.6 1.6,-.7 1.6,-.6 1.5,-.7 1.6,-.6 1.5,-.7 1.6,-.7 1.5,-.7 1.6,-.7 1.6,-.7 1.5,-.7 1.6,-.9 1.5,-.9 1.6,-1 1.6,-1.2 1.5,-1.3 1.6,-1.4 1.5,-1.4 1.6,-1.5 1.6,-1.6 1.5,-1.6 1.6,-1.6 1.5,-1.7 1.6,-1.7 1.6,-1.8 1.5,-1.7 1.6,-1.8 1.5,-1.8 1.6,-1.8 1.6,-1.8 1.5,-1.8 1.6,-1.7 1.5,-1.8 1.6,-1.8 1.6,-1.7 1.5,-1.7 1.6,-1.6 1.5,-1.7 1.6,-1.5 1.6,-1.6 1.5,-1.5 1.6,-1.5 1.5,-1.4 1.6,-1.4 1.6,-1.4 1.5,-1.3 1.6,-1.3 1.5,-1.3 1.6,-1.2 1.5,-1.3 1.6,-1.2 1.6,-1.2 1.5,-1.2 1.6,-1.2 1.5,-1.2 1.6,-1.1 1.6,-1.2 1.5,-1.1 1.6,-1.2 1.5,-1.2 1.6,-1.1 1.6,-1.2 1.5,-1.1 1.6,-1.2 1.5,-1.1 1.6,-1.2 1.6,-1.1 1.5,-1.2 1.6,-1.1 1.5,-1.2 1.6,-1.1" stroke="#e8801e" stroke-width="1.4"/></g>
<g fill="none" stroke-linecap="round" stroke-linejoin="round" clip-path="url(#cb)"><use href="#b25" stroke="#e02424" stroke-width="4.4"/><use href="#b27_5" stroke="#7cf01c" stroke-width="4.0"/><use href="#b30" stroke="#2a2af0" stroke-width="4.6"/><use href="#b30" stroke="#fff" stroke-width="1.2" stroke-dasharray="0 2.6"/><use href="#b32_5" stroke="#777" stroke-width="4.8"/><use href="#b32_5" stroke="#fff" stroke-width="1.2" stroke-dasharray="0 2.6"/><use href="#b35" stroke="#e000f0" stroke-width="4.6"/><use href="#b35" stroke="#fff" stroke-width="1.2" stroke-dasharray="0 2.6"/><path d="M338.2,239.6l-1.7,1.2 -1.8,1.2 -1.7,1.2 -1.8,1.2 -1.7,1.2 -1.8,1.1 -1.7,1.2 -1.8,1.1 -1.7,1.1 -1.8,1.1 -1.7,1.1 -1.8,1 -1.7,1 -1.7,1.1 -1.8,.9 -1.7,1 -1.8,1 -1.7,.9 -1.8,.9 -1.7,.9 -1.8,.9 -1.7,.8 -1.8,.8 -1.7,.9 -1.7,.8 -1.8,.7 -1.7,.8 -1.8,.8 -1.7,.7 -1.8,.7 -1.7,.7 -1.8,.7 -1.7,.7 -1.8,.7 -1.7,.6 -1.8,.7 -1.7,.6 -1.7,.6 -1.8,.7 -1.7,.6 -1.8,.6 -1.7,.6 -1.8,.6 -1.7,.6 -1.8,.6 -1.7,.6 -1.8,.5 -1.7,.6 -1.7,.6 -1.8,.5 -1.7,.6 -1.8,.6 -1.7,.5 -1.8,.6 -1.7,.6 -1.8,.5 -1.7,.6 -1.8,.5 -1.7,.6 -1.8,.6 -1.7,.5 -1.7,.6 -1.8,.5 -1.7,.6 -1.8,.6 -1.7,.6 -1.8,.5 -1.7,.6 -1.8,.6 -1.7,.6 -1.8,.6 -1.7,.6 -1.8,.7 -1.7,.6 -1.7,.6 -1.8,.7 -1.7,.7 -1.8,.7 -1.7,.7 -1.8,.7 -1.7,.7 -1.8,.8 -1.7,.8 -1.8,.8 -1.7,.9 -1.7,.9 -1.8,.9 -1.7,.9 -1.8,1 -1.7,1 -1.8,1.1 -1.7,1.1 -1.8,1.1 -1.7,1.2 -1.8,1.3 -1.7,1.3 -1.8,1.4 -1.7,1.4 -1.7,1.5 -1.8,1.5 -1.7,1.6 -1.8,1.6 -1.7,1.8 -1.8,1.8 -1.7,1.8 -1.8,1.9 -1.7,2 -1.8,2.1 -1.7,2.1 -1.8,2.1 -1.7,2.3 -1.7,2.3 -1.8,2.3 -1.7,2.4 -1.8,2.5 -1.7,2.5 -1.8,2.5 -1.7,2.6 -1.8,2.6 -1.7,2.7 -1.8,2.6 -1.7,2.7 -1.7,2.7 -1.8,2.7 -1.7,2.7 -1.8,2.7 -1.7,2.6 -1.8,2.7 -1.7,2.6 -1.8,2.6 -1.7,2.5 -1.8,2.5 -1.7,2.5 -1.8,2.4 -1.7,2.4 -1.7,2.3 -1.8,2.3 -1.7,2.1 -1.8,2.2 -1.7,2 -1.8,2 -1.7,2 -1.8,1.9 -1.7,1.8 -1.8,1.8 -1.7,1.7 -1.7,1.7 -1.8,1.6 -1.7,1.5 -1.8,1.6 -1.7,1.5 -1.8,1.5 -1.7,1.4 -1.8,1.4 -1.7,1.4 -1.8,1.3 -1.7,1.4 -1.8,1.3 -1.7,1.4 1.7,.8 1.8,-1.2 1.7,-1.2 1.8,-1.2 1.7,-1.2 1.8,-1.1 1.7,-1.2 1.8,-1.1 1.7,-1.1 1.8,-1.1 1.7,-1.1 1.8,-1 1.7,-1 1.7,-1.1 1.8,-.9 1.7,-1 1.8,-1 1.7,-.9 1.8,-.9 1.7,-.9 1.8,-.9 1.7,-.8 1.8,-.8 1.7,-.9 1.7,-.8 1.8,-.7 1.7,-.8 1.8,-.8 1.7,-.7 1.8,-.7 1.7,-.7 1.8,-.7 1.7,-.7 1.8,-.7 1.7,-.6 1.8,-.7 1.7,-.6 1.7,-.6 1.8,-.7 1.7,-.6 1.8,-.6 1.7,-.6 1.8,-.6 1.7,-.6 1.8,-.6 1.7,-.6 1.8,-.5 1.7,-.6 1.7,-.6 1.8,-.5 1.7,-.6 1.8,-.6 1.7,-.5 1.8,-.6 1.7,-.6 1.8,-.5 1.7,-.6 1.8,-.5 1.7,-.6 1.8,-.6 1.7,-.5 1.7,-.6 1.8,-.5 1.7,-.6 1.8,-.6 1.7,-.6 1.8,-.5 1.7,-.6 1.8,-.6 1.7,-.6 1.8,-.6 1.7,-.6 1.8,-.7 1.7,-.6 1.7,-.6 1.8,-.7 1.7,-.7 1.8,-.7 1.7,-.7 1.8,-.7 1.7,-.7 1.8,-.8 1.7,-.8 1.8,-.8 1.7,-.9 1.7,-.9 1.8,-.9 1.7,-.9 1.8,-1 1.7,-1 1.8,-1.1 1.7,-1.1 1.8,-1.1 1.7,-1.2 1.8,-1.3 1.7,-1.3 1.8,-1.4 1.7,-1.4 1.7,-1.5 1.8,-1.5 1.7,-1.6 1.8,-1.6 1.7,-1.8 1.8,-1.8 1.7,-1.8 1.8,-1.9 1.7,-2 1.8,-2.1 1.7,-2.1 1.8,-2.1 1.7,-2.3 1.7,-2.3 1.8,-2.3 1.7,-2.4 1.8,-2.5 1.7,-2.5 1.8,-2.5 1.7,-2.6 1.8,-2.6 1.7,-2.7 1.8,-2.6 1.7,-2.7 1.7,-2.7 1.8,-2.7 1.7,-2.7 1.8,-2.7 1.7,-2.6 1.8,-2.7 1.7,-2.6 1.8,-2.6 1.7,-2.5 1.8,-2.5 1.7,-2.5 1.8,-2.4 1.7,-2.4 1.7,-2.3 1.8,-2.3 1.7,-2.1 1.8,-2.2 1.7,-2 1.8,-2 1.7,-2 1.8,-1.9 1.7,-1.8 1.8,-1.8 1.7,-1.7 1.7,-1.7 1.8,-1.6 1.7,-1.5 1.8,-1.6 1.7,-1.5 1.8,-1.5 1.7,-1.4 1.8,-1.4 1.7,-1.4 1.8,-1.3 1.7,-1.4 1.8,-1.3 1.7,-1.4M199.4,343.0l1.6,0 1.5,0 1.6,0 1.5,0 1.6,0 1.6,0 1.5,0 1.6,0 1.5,0 1.6,0 1.6,0 1.5,0 1.6,0 1.5,0 1.6,0 1.6,0 1.5,-.1 1.6,0 1.5,0 1.6,0 1.6,0 1.5,0 1.6,0 1.5,0 1.6,0 1.5,0 1.6,0 1.6,0 1.5,0 1.6,0 1.5,-.1 1.6,0 1.6,-.1 1.5,-.1 1.6,-.3 1.5,-.8 1.6,-1.6 1.6,-1.9 1.5,-2.1 1.6,-2.1 1.5,-2.2 1.6,-2.3 1.6,-2.3 1.5,-2.3 1.6,-2.3 1.5,-2.4 1.6,-2.4 1.6,-2.4 1.5,-2.4 1.6,-2.4 1.5,-2.4 1.6,-2.4 1.6,-2.3 1.5,-2.4 1.6,-2.4 1.5,-2.3 1.6,-2.3 1.6,-2.2 1.5,-2.3 1.6,-2.2 1.5,-2.1 1.6,-2.1 1.6,-2.1 1.5,-2 1.6,-2 1.5,-1.9 1.6,-1.9 1.5,-1.8 1.6,-1.8 1.6,-1.8 1.5,-1.6 1.6,-1.7 1.5,-1.6 1.6,-1.5 1.6,-1.5 1.5,-1.5 1.6,-1.4 1.5,-1.4 1.6,-1.4 1.6,-1.3 1.5,-1.4 1.6,-1.2 1.5,-1.3 1.6,-1.3 1.6,-1.2 1.5,-1.2 1.6,-1.2 1.5,-1.2 1.6,-1.2" stroke="#80f4ff" stroke-width="1.9"/><path d="M314.3,256.7l-1.4,1 -1.5,1 -1.4,1 -1.5,1 -1.4,.9 -1.4,1 -1.5,.9 -1.4,.9 -1.5,.9 -1.4,.9 -1.5,.9 -1.4,.8 -1.5,.9 -1.4,.8 -1.5,.9 -1.4,.8 -1.4,.8 -1.5,.7 -1.4,.8 -1.5,.7 -1.4,.8 -1.5,.7 -1.4,.7 -1.5,.7 -1.4,.7 -1.5,.6 -1.4,.7 -1.5,.6 -1.4,.7 -1.4,.6 -1.5,.6 -1.4,.6 -1.5,.6 -1.4,.6 -1.5,.5 -1.4,.6 -1.5,.6 -1.4,.5 -1.5,.5 -1.4,.6 -1.4,.5 -1.5,.5 -1.4,.5 -1.5,.5 -1.4,.5 -1.5,.5 -1.4,.5 -1.5,.5 -1.4,.5 -1.5,.5 -1.4,.5 -1.4,.5 -1.5,.4 -1.4,.5 -1.5,.5 -1.4,.5 -1.5,.4 -1.4,.5 -1.5,.5 -1.4,.5 -1.5,.4 -1.4,.5 -1.4,.5 -1.5,.5 -1.4,.4 -1.5,.5 -1.4,.5 -1.5,.5 -1.4,.5 -1.5,.5 -1.4,.6 -1.5,.5 -1.4,.5 -1.4,.6 -1.5,.5 -1.4,.6 -1.5,.6 -1.4,.6 -1.5,.6 -1.4,.6 -1.5,.7 -1.4,.6 -1.5,.7 -1.4,.8 -1.5,.7 -1.4,.8 -1.4,.8 -1.5,.8 -1.4,.8 -1.5,.9 -1.4,.9 -1.5,1 -1.4,1 -1.5,1 -1.4,1.1 -1.5,1.1 -1.4,1.2 -1.4,1.2 -1.5,1.2 -1.4,1.3 -1.5,1.4 -1.4,1.4 -1.5,1.4 -1.4,1.5 -1.5,1.6 -1.4,1.6 -1.5,1.6 -1.4,1.7 -1.4,1.7 -1.5,1.8 -1.4,1.8 -1.5,1.9 -1.4,1.9 -1.5,2 -1.4,1.9 -1.5,2.1 -1.4,2 -1.5,2.1 -1.4,2.1 -1.4,2.1 -1.5,2.1 -1.4,2.1 -1.5,2.2 -1.4,2.1 -1.5,2.2 -1.4,2.1 -1.5,2.1 -1.4,2.1 -1.5,2.1 -1.4,2.1 -1.4,2 -1.5,2 -1.4,2 -1.5,2 -1.4,1.9 -1.5,1.8 -1.4,1.8 -1.5,1.8 -1.4,1.7 -1.5,1.7 -1.4,1.7 -1.5,1.6 -1.4,1.5 -1.4,1.5 -1.5,1.5 -1.4,1.4 -1.5,1.4 -1.4,1.4 -1.5,1.3 -1.4,1.3 -1.5,1.3 -1.4,1.2 -1.5,1.2 -1.4,1.2 -1.4,1.2 -1.5,1.1 -1.4,1.2 -1.5,1.1 -1.4,1.1 1.4,1.9 1.5,-1 1.4,-1 1.5,-1 1.4,-.9 1.4,-1 1.5,-.9 1.4,-.9 1.5,-.9 1.4,-.9 1.5,-.9 1.4,-.8 1.5,-.9 1.4,-.8 1.5,-.9 1.4,-.8 1.4,-.8 1.5,-.7 1.4,-.8 1.5,-.7 1.4,-.8 1.5,-.7 1.4,-.7 1.5,-.7 1.4,-.7 1.5,-.6 1.4,-.7 1.5,-.6 1.4,-.7 1.4,-.6 1.5,-.6 1.4,-.6 1.5,-.6 1.4,-.6 1.5,-.5 1.4,-.6 1.5,-.6 1.4,-.5 1.5,-.5 1.4,-.6 1.4,-.5 1.5,-.5 1.4,-.5 1.5,-.5 1.4,-.5 1.5,-.5 1.4,-.5 1.5,-.5 1.4,-.5 1.5,-.5 1.4,-.5 1.4,-.5 1.5,-.4 1.4,-.5 1.5,-.5 1.4,-.5 1.5,-.4 1.4,-.5 1.5,-.5 1.4,-.5 1.5,-.4 1.4,-.5 1.4,-.5 1.5,-.5 1.4,-.4 1.5,-.5 1.4,-.5 1.5,-.5 1.4,-.5 1.5,-.5 1.4,-.6 1.5,-.5 1.4,-.5 1.4,-.6 1.5,-.5 1.4,-.6 1.5,-.6 1.4,-.6 1.5,-.6 1.4,-.6 1.5,-.7 1.4,-.6 1.5,-.7 1.4,-.8 1.5,-.7 1.4,-.8 1.4,-.8 1.5,-.8 1.4,-.8 1.5,-.9 1.4,-.9 1.5,-1 1.4,-1 1.5,-1 1.4,-1.1 1.5,-1.1 1.4,-1.2 1.4,-1.2 1.5,-1.2 1.4,-1.3 1.5,-1.4 1.4,-1.4 1.5,-1.4 1.4,-1.5 1.5,-1.6 1.4,-1.6 1.5,-1.6 1.4,-1.7 1.4,-1.7 1.5,-1.8 1.4,-1.8 1.5,-1.9 1.4,-1.9 1.5,-2 1.4,-1.9 1.5,-2.1 1.4,-2 1.5,-2.1 1.4,-2.1 1.4,-2.1 1.5,-2.1 1.4,-2.1 1.5,-2.2 1.4,-2.1 1.5,-2.2 1.4,-2.1 1.5,-2.1 1.4,-2.1 1.5,-2.1 1.4,-2.1 1.4,-2 1.5,-2 1.4,-2 1.5,-2 1.4,-1.9 1.5,-1.8 1.4,-1.8 1.5,-1.8 1.4,-1.7 1.5,-1.7 1.4,-1.7 1.5,-1.6 1.4,-1.5 1.4,-1.5 1.5,-1.5 1.4,-1.4 1.5,-1.4 1.4,-1.4 1.5,-1.3 1.4,-1.3 1.5,-1.3 1.4,-1.2 1.5,-1.2 1.4,-1.2 1.4,-1.2 1.5,-1.1 1.4,-1.2 1.5,-1.1 1.4,-1.1" stroke="#111" stroke-width="1.8"/><path d="M297.1,269.3l-1.2,.8 -1.2,.8 -1.3,.7 -1.2,.8 -1.2,.7 -1.3,.8 -1.2,.8 -1.2,.7 -1.2,.8 -1.3,.7 -1.2,.8 -1.2,.7 -1.3,.8 -1.2,.7 -1.2,.8 -1.3,.7 -1.2,.7 -1.2,.8 -1.2,.7 -1.3,.7 -1.2,.7 -1.2,.8 -1.3,.7 -1.2,.7 -1.2,.7 -1.2,.7 -1.3,.6 -1.2,.7 -1.2,.7 -1.3,.7 -1.2,.6 -1.2,.7 -1.2,.6 -1.3,.7 -1.2,.6 -1.2,.6 -1.3,.6 -1.2,.6 -1.2,.6 -1.2,.6 -1.3,.6 -1.2,.6 -1.2,.5 -1.3,.6 -1.2,.5 -1.2,.5 -1.3,.6 -1.2,.5 -1.2,.5 -1.2,.5 -1.3,.4 -1.2,.5 -1.2,.5 -1.3,.4 -1.2,.5 -1.2,.4 -1.2,.4 -1.3,.4 -1.2,.4 -1.2,.4 -1.3,.4 -1.2,.4 -1.2,.4 -1.2,.4 -1.3,.3 -1.2,.4 -1.2,.4 -1.3,.3 -1.2,.4 -1.2,.4 -1.3,.3 -1.2,.4 -1.2,.4 -1.2,.4 -1.3,.4 -1.2,.4 -1.2,.4 -1.3,.4 -1.2,.4 -1.2,.5 -1.2,.5 -1.3,.5 -1.2,.5 -1.2,.6 -1.3,.6 -1.2,.6 -1.2,.6 -1.2,.7 -1.3,.7 -1.2,.8 -1.2,.8 -1.3,.8 -1.2,.9 -1.2,.9 -1.3,1 -1.2,1 -1.2,1.1 -1.2,1.1 -1.3,1.2 -1.2,1.2 -1.2,1.2 -1.3,1.4 -1.2,1.3 -1.2,1.4 -1.2,1.5 -1.3,1.5 -1.2,1.5 -1.2,1.6 -1.3,1.6 -1.2,1.6 -1.2,1.7 -1.2,1.7 -1.3,1.8 -1.2,1.7 -1.2,1.8 -1.3,1.8 -1.2,1.8 -1.2,1.8 -1.3,1.8 -1.2,1.8 -1.2,1.8 -1.2,1.8 -1.3,1.8 -1.2,1.7 -1.2,1.8 -1.3,1.7 -1.2,1.7 -1.2,1.7 -1.2,1.6 -1.3,1.6 -1.2,1.6 -1.2,1.6 -1.3,1.5 -1.2,1.4 -1.2,1.5 -1.2,1.4 -1.3,1.3 -1.2,1.4 -1.2,1.3 -1.3,1.2 -1.2,1.3 -1.2,1.2 -1.2,1.1 -1.3,1.2 -1.2,1.1 -1.2,1.1 -1.3,1.1 -1.2,1 -1.2,1.1 -1.3,1 -1.2,1 -1.2,1 -1.2,.9 -1.3,1 -1.2,.9 -1.2,1 -1.3,.9 -1.2,1 -1.2,.9 1.2,1.3 1.2,-.8 1.3,-.7 1.2,-.8 1.2,-.7 1.3,-.8 1.2,-.8 1.2,-.7 1.2,-.8 1.3,-.7 1.2,-.8 1.2,-.7 1.3,-.8 1.2,-.7 1.2,-.8 1.3,-.7 1.2,-.7 1.2,-.8 1.2,-.7 1.3,-.7 1.2,-.7 1.2,-.8 1.3,-.7 1.2,-.7 1.2,-.7 1.2,-.7 1.3,-.6 1.2,-.7 1.2,-.7 1.3,-.7 1.2,-.6 1.2,-.7 1.2,-.6 1.3,-.7 1.2,-.6 1.2,-.6 1.3,-.6 1.2,-.6 1.2,-.6 1.2,-.6 1.3,-.6 1.2,-.6 1.2,-.5 1.3,-.6 1.2,-.5 1.2,-.5 1.3,-.6 1.2,-.5 1.2,-.5 1.2,-.5 1.3,-.4 1.2,-.5 1.2,-.5 1.3,-.4 1.2,-.5 1.2,-.4 1.2,-.4 1.3,-.4 1.2,-.4 1.2,-.4 1.3,-.4 1.2,-.4 1.2,-.4 1.2,-.4 1.3,-.3 1.2,-.4 1.2,-.4 1.3,-.3 1.2,-.4 1.2,-.4 1.3,-.3 1.2,-.4 1.2,-.4 1.2,-.4 1.3,-.4 1.2,-.4 1.2,-.4 1.3,-.4 1.2,-.4 1.2,-.5 1.2,-.5 1.3,-.5 1.2,-.5 1.2,-.6 1.3,-.6 1.2,-.6 1.2,-.6 1.2,-.7 1.3,-.7 1.2,-.8 1.2,-.8 1.3,-.8 1.2,-.9 1.2,-.9 1.3,-1 1.2,-1 1.2,-1.1 1.2,-1.1 1.3,-1.2 1.2,-1.2 1.2,-1.2 1.3,-1.4 1.2,-1.3 1.2,-1.4 1.2,-1.5 1.3,-1.5 1.2,-1.5 1.2,-1.6 1.3,-1.6 1.2,-1.6 1.2,-1.7 1.2,-1.7 1.3,-1.8 1.2,-1.7 1.2,-1.8 1.3,-1.8 1.2,-1.8 1.2,-1.8 1.3,-1.8 1.2,-1.8 1.2,-1.8 1.2,-1.8 1.3,-1.8 1.2,-1.7 1.2,-1.8 1.3,-1.7 1.2,-1.7 1.2,-1.7 1.2,-1.6 1.3,-1.6 1.2,-1.6 1.2,-1.6 1.3,-1.5 1.2,-1.4 1.2,-1.5 1.2,-1.4 1.3,-1.3 1.2,-1.4 1.2,-1.3 1.3,-1.2 1.2,-1.3 1.2,-1.2 1.2,-1.1 1.3,-1.2 1.2,-1.1 1.2,-1.1 1.3,-1.1 1.2,-1 1.2,-1.1 1.3,-1 1.2,-1 1.2,-1 1.2,-.9 1.3,-1 1.2,-.9 1.2,-1 1.3,-.9 1.2,-1 1.2,-.9M199.4,343.0l1.1,-.1 1.1,0 1.1,0 1.1,0 1.1,0 1.1,0 1.1,0 1.1,0 1.1,0 1.1,0 1.1,0 1.1,0 1.1,0 1.1,0 1.1,0 1.1,0 1.1,0 1.1,0 1.1,0 1.1,0 1.1,0 1.1,0 1.1,0 1.1,0 1,-.1 1.1,0 1.1,0 1.1,0 1.1,-.1 1.1,-.1 1.1,-.2 1.1,-.5 1.1,-.8 1.1,-1.1 1.1,-1.4 1.1,-1.4 1.1,-1.5 1.1,-1.5 1.1,-1.6 1.1,-1.5 1.1,-1.6 1.1,-1.6 1.1,-1.6 1.1,-1.6 1.1,-1.6 1.1,-1.6 1.1,-1.6 1.1,-1.6 1.1,-1.6 1.1,-1.6 1.1,-1.5 1.1,-1.6 1.1,-1.5 1.1,-1.5 1.1,-1.5 1.1,-1.4 1.1,-1.4 1.1,-1.4 1.1,-1.4 1.1,-1.3 1.1,-1.4 1.1,-1.2 1.1,-1.3 1.1,-1.2 1.1,-1.2 1.1,-1.2 1.1,-1.1 1.1,-1.2 1.1,-1.1 1.1,-1 1.1,-1.1 1.1,-1 1,-1 1.1,-1 1.1,-1 1.1,-.9 1.1,-.9 1.1,-1 1.1,-.9 1.1,-.9 1.1,-.8 1.1,-.9 1.1,-.9 1.1,-.8 1.1,-.9 1.1,-.8 1.1,-.9 1.1,-.8 1.1,-.8" stroke="#e8801e" stroke-width="1.5"/><path d="M266.0,293.9l-.8,.6 -.9,.6 -.8,.6 -.8,.6 -.9,.7 -.8,.6 -.8,.6 -.9,.6 -.8,.6 -.9,.6 -.8,.7 -.8,.6 -.9,.6 -.8,.6 -.8,.6 -.9,.6 -.8,.6 -.9,.6 -.8,.6 -.8,.6 -.9,.6 -.8,.6 -.9,.6 -.8,.5 -.8,.6 -.9,.5 -.8,.5 -.8,.5 -.9,.4 -.8,.5 -.9,.4 -.8,.4 -.8,.3 -.9,.3 -.8,.3 -.8,.3 -.9,.2 -.8,.2 -.9,.1 -.8,.2 -.8,.1 -.9,.1 -.8,.1 -.8,.1 -.9,.1 -.8,0 -.9,.1 -.8,0 -.8,.1 -.9,.1 -.8,.1 -.9,0 -.8,.2 -.8,.1 -.9,.1 -.8,.2 -.8,.2 -.9,.2 -.8,.2 -.9,.2 -.8,.3 -.8,.2 -.9,.3 -.8,.3 -.8,.4 -.9,.3 -.8,.3 -.9,.4 -.8,.4 -.8,.4 -.9,.4 -.8,.4 -.9,.4 -.8,.4 -.8,.5 -.9,.4 -.8,.4 -.8,.5 -.9,.4 -.8,.5 -.9,.4 -.8,.5 -.8,.5 -.9,.4 -.8,.5 -.8,.4 -.9,.5 -.8,.5 -.9,.5 -.8,.5 -.8,.5 -.9,.5 -.8,.5 -.9,.5 -.8,.6 -.8,.6 -.9,.6 -.8,.6 -.8,.6 -.9,.7 -.8,.6 -.9,.8 -.8,.7 -.8,.8 -.9,.9 -.8,.8 -.8,1 -.9,.9 -.8,1 -.9,1.1 -.8,1.1 -.8,1.1 -.9,1.2 -.8,1.3 -.9,1.3 -.8,1.3 -.8,1.3 -.9,1.4 -.8,1.4 -.8,1.5 -.9,1.4 -.8,1.5 -.9,1.4 -.8,1.4 -.8,1.5 -.9,1.4 -.8,1.4 -.8,1.3 -.9,1.3 -.8,1.3 -.9,1.2 -.8,1.1 -.8,1.2 -.9,1 -.8,1 -.8,1 -.9,.9 -.8,.9 -.9,.8 -.8,.8 -.8,.8 -.9,.7 -.8,.8 -.9,.6 -.8,.7 -.8,.7 -.9,.6 -.8,.7 -.8,.6 -.9,.7 -.8,.6 -.9,.6 -.8,.6 -.8,.6 -.9,.7 -.8,.6 -.8,.6 -.9,.6 -.8,.6 .8,-.6 .9,-.6 .8,-.6 .8,-.6 .9,-.7 .8,-.6 .8,-.6 .9,-.6 .8,-.6 .9,-.6 .8,-.7 .8,-.6 .9,-.6 .8,-.6 .8,-.6 .9,-.6 .8,-.6 .9,-.6 .8,-.6 .8,-.6 .9,-.6 .8,-.6 .9,-.6 .8,-.5 .8,-.6 .9,-.5 .8,-.5 .8,-.5 .9,-.4 .8,-.5 .9,-.4 .8,-.4 .8,-.3 .9,-.3 .8,-.3 .8,-.3 .9,-.2 .8,-.2 .9,-.1 .8,-.2 .8,-.1 .9,-.1 .8,-.1 .8,-.1 .9,-.1 .8,0 .9,-.1 .8,0 .8,-.1 .9,-.1 .8,-.1 .9,0 .8,-.2 .8,-.1 .9,-.1 .8,-.2 .8,-.2 .9,-.2 .8,-.2 .9,-.2 .8,-.3 .8,-.2 .9,-.3 .8,-.3 .8,-.4 .9,-.3 .8,-.3 .9,-.4 .8,-.4 .8,-.4 .9,-.4 .8,-.4 .9,-.4 .8,-.4 .8,-.5 .9,-.4 .8,-.4 .8,-.5 .9,-.4 .8,-.5 .9,-.4 .8,-.5 .8,-.5 .9,-.4 .8,-.5 .8,-.4 .9,-.5 .8,-.5 .9,-.5 .8,-.5 .8,-.5 .9,-.5 .8,-.5 .9,-.5 .8,-.6 .8,-.6 .9,-.6 .8,-.6 .8,-.6 .9,-.7 .8,-.6 .9,-.8 .8,-.7 .8,-.8 .9,-.9 .8,-.8 .8,-1 .9,-.9 .8,-1 .9,-1.1 .8,-1.1 .8,-1.1 .9,-1.2 .8,-1.3 .9,-1.3 .8,-1.3 .8,-1.3 .9,-1.4 .8,-1.4 .8,-1.5 .9,-1.4 .8,-1.5 .9,-1.4 .8,-1.4 .8,-1.5 .9,-1.4 .8,-1.4 .8,-1.3 .9,-1.3 .8,-1.3 .9,-1.2 .8,-1.1 .8,-1.2 .9,-1 .8,-1 .8,-1 .9,-.9 .8,-.9 .9,-.8 .8,-.8 .8,-.8 .9,-.7 .8,-.8 .9,-.6 .8,-.7 .8,-.7 .9,-.6 .8,-.7 .8,-.6 .9,-.7 .8,-.6 .9,-.6 .8,-.6 .8,-.6 .9,-.7 .8,-.6 .8,-.6 .9,-.6 .8,-.6M199.4,343.0l.7,-.1 .8,0 .7,0 .8,0 .7,0 .8,0 .7,0 .8,0 .7,0 .8,0 .7,0 .8,0 .7,0 .8,0 .7,0 .8,0 .7,0 .8,0 .7,0 .8,0 .7,-.1 .8,0 .7,0 .8,0 .7,0 .8,0 .7,0 .8,-.1 .7,0 .8,-.1 .7,-.1 .8,-.1 .7,-.2 .8,-.4 .7,-.5 .7,-.8 .8,-.9 .7,-.9 .8,-1.1 .7,-1.1 .8,-1.2 .7,-1.1 .8,-1.3 .7,-1.2 .8,-1.3 .7,-1.2 .8,-1.3 .7,-1.3 .8,-1.3 .7,-1.3 .8,-1.2 .7,-1.3 .8,-1.2 .7,-1.2 .8,-1.2 .7,-1.1 .8,-1.1 .7,-1.1 .8,-1 .7,-1 .8,-1 .7,-.9 .8,-.8 .7,-.9 .8,-.8 .7,-.7 .8,-.8 .7,-.7 .8,-.6 .7,-.7 .7,-.6 .8,-.7 .7,-.6 .8,-.6 .7,-.6 .8,-.5 .7,-.6 .8,-.6 .7,-.5 .8,-.6 .7,-.5 .8,-.6 .7,-.6 .8,-.5 .7,-.6 .8,-.5 .7,-.6 .8,-.5 .7,-.6" stroke="#e02424" stroke-width="1.6"/><path d="M248.3,306.1l-.7,.5 -.6,.5 -.6,.4 -.6,.5 -.6,.4 -.6,.5 -.6,.4 -.7,.5 -.6,.4 -.6,.5 -.6,.4 -.6,.5 -.6,.4 -.6,.5 -.7,.4 -.6,.5 -.6,.5 -.6,.4 -.6,.5 -.6,.4 -.6,.5 -.7,.4 -.6,.5 -.6,.4 -.6,.5 -.6,.4 -.6,.5 -.7,.4 -.6,.5 -.6,.4 -.6,.5 -.6,.5 -.6,.4 -.6,.5 -.7,.4 -.6,.5 -.6,.4 -.6,.5 -.6,.4 -.6,.5 -.6,.4 -.7,.5 -.6,.4 -.6,.5 -.6,.4 -.6,.5 -.6,.4 -.6,.5 -.7,.5 -.6,.4 -.6,.5 -.6,.3 -.6,.3 -.6,.2 -.6,.2 -.7,.2 -.6,.2 -.6,.2 -.6,.2 -.6,.2 -.6,.1 -.6,.2 -.7,.2 -.6,.1 -.6,.2 -.6,.1 -.6,.1 -.6,.1 -.6,.1 -.7,.1 -.6,.1 -.6,0 -.6,0 -.6,0 -.6,.1 -.6,0 -.7,0 -.6,.1 -.6,.2 -.6,.2 -.6,.2 -.6,.2 -.7,.2 -.6,.3 -.6,.3 -.6,.3 -.6,.3 -.6,.3 -.6,.4 -.7,.4 -.6,.4 -.6,.4 -.6,.4 -.6,.4 -.6,.4 -.6,.4 -.7,.5 -.6,.4 -.6,.5 -.6,.8 -.6,.9 -.6,1 -.6,1.1 -.7,1.2 -.6,1.2 -.6,1.3 -.6,1.4 -.6,1.6 -.6,1.6 -.6,1.7 -.7,1.9 -.6,1.2 -.6,.5 -.6,.4 -.6,.5 -.6,.4 -.6,.5 -.7,.4 -.6,.5 -.6,.4 -.6,.5 -.6,.4 -.6,.5 -.6,.5 -.7,.4 -.6,.5 -.6,.4 -.6,.5 -.6,.4 -.6,.5 -.6,.4 -.7,.5 -.6,.4 -.6,.5 -.6,.4 -.6,.5 -.6,.4 -.7,.5 -.6,.5 -.6,.4 -.6,.5 -.6,.4 -.6,.5 -.6,.4 -.7,.5 -.6,.4 -.6,.5 -.6,.4 -.6,.5 -.6,.4 -.6,.5 -.7,.4 -.6,.5 -.6,.5 -.6,.4 -.6,.5 -.6,.4 -.6,.5 -.7,.4 .7,1.2 .6,-.5 .6,-.4 .6,-.5 .6,-.4 .6,-.5 .6,-.4 .7,-.5 .6,-.4 .6,-.5 .6,-.4 .6,-.5 .6,-.4 .6,-.5 .7,-.4 .6,-.5 .6,-.5 .6,-.4 .6,-.5 .6,-.4 .6,-.5 .7,-.4 .6,-.5 .6,-.4 .6,-.5 .6,-.4 .6,-.5 .7,-.4 .6,-.5 .6,-.4 .6,-.5 .6,-.5 .6,-.4 .6,-.5 .7,-.4 .6,-.5 .6,-.4 .6,-.5 .6,-.4 .6,-.5 .6,-.4 .7,-.5 .6,-.4 .6,-.5 .6,-.4 .6,-.5 .6,-.4 .6,-.5 .7,-.5 .6,-.4 .6,-.5 .6,-.3 .6,-.3 .6,-.2 .6,-.2 .7,-.2 .6,-.2 .6,-.2 .6,-.2 .6,-.2 .6,-.1 .6,-.2 .7,-.2 .6,-.1 .6,-.2 .6,-.1 .6,-.1 .6,-.1 .6,-.1 .7,-.1 .6,-.1 .6,0 .6,0 .6,0 .6,-.1 .6,0 .7,0 .6,-.1 .6,-.2 .6,-.2 .6,-.2 .6,-.2 .7,-.2 .6,-.3 .6,-.3 .6,-.3 .6,-.3 .6,-.3 .6,-.4 .7,-.4 .6,-.4 .6,-.4 .6,-.4 .6,-.4 .6,-.4 .6,-.4 .7,-.5 .6,-.4 .6,-.5 .6,-.8 .6,-.9 .6,-1 .6,-1.1 .7,-1.2 .6,-1.2 .6,-1.3 .6,-1.4 .6,-1.6 .6,-1.6 .6,-1.7 .7,-1.9 .6,-1.2 .6,-.5 .6,-.4 .6,-.5 .6,-.4 .6,-.5 .7,-.4 .6,-.5 .6,-.4 .6,-.5 .6,-.4 .6,-.5 .6,-.5 .7,-.4 .6,-.5 .6,-.4 .6,-.5 .6,-.4 .6,-.5 .6,-.4 .7,-.5 .6,-.4 .6,-.5 .6,-.4 .6,-.5 .6,-.4 .7,-.5 .6,-.5 .6,-.4 .6,-.5 .6,-.4 .6,-.5 .6,-.4 .7,-.5 .6,-.4 .6,-.5 .6,-.4 .6,-.5 .6,-.4 .6,-.5 .7,-.4 .6,-.5 .6,-.5 .6,-.4 .6,-.5 .6,-.4 .6,-.5 .7,-.4M199.4,343.0l.5,-.2 .6,0 .5,0 .6,0 .5,0 .6,0 .5,0 .6,0 .5,0 .6,0 .5,0 .6,0 .5,-.1 .6,0 .5,0 .6,0 .5,0 .6,-.1 .5,0 .6,0 .5,-.1 .6,-.1 .5,-.1 .6,-.3 .5,-.4 .6,-.7 .5,-.8 .6,-1 .5,-1 .6,-1 .5,-1.3 .6,-1.4 .5,-1.5 .6,-1.4 .5,-1.7 .6,-1.4 .5,-.5 .6,-.4 .5,-.4 .6,-.4 .5,-.4 .6,-.4 .5,-.4 .6,-.4 .5,-.4 .6,-.4 .5,-.4 .6,-.4 .5,-.4 .5,-.4 .6,-.4 .5,-.4 .6,-.4 .5,-.4 .6,-.4 .5,-.4 .6,-.4 .5,-.4 .6,-.5 .5,-.4 .6,-.4 .5,-.4 .6,-.4 .5,-.4 .6,-.4 .5,-.4 .6,-.4 .5,-.4 .6,-.4 .5,-.4 .6,-.4 .5,-.4 .6,-.4 .5,-.4 .6,-.4 .5,-.4 .6,-.4 .5,-.4 .6,-.4 .5,-.4 .6,-.4 .5,-.4 .6,-.5 .5,-.4 .6,-.4 .5,-.4 .6,-.4 .5,-.4 .6,-.4" stroke="#2a2af0" stroke-width="1.6"/></g>
<g stroke="#363636" stroke-width="1.35" fill="none"><rect x="49.7" y="1.5" width="299.3" height="220.8"/><path d="M60.6,222.3v2.8M60.6,1.5v2.8M88.4,222.3v4.8M88.4,1.5v4.8M116.1,222.3v2.8M116.1,1.5v2.8M143.9,222.3v4.8M143.9,1.5v4.8M171.6,222.3v2.8M171.6,1.5v2.8M199.4,222.3v4.8M199.4,1.5v4.8M227.2,222.3v2.8M227.2,1.5v2.8M254.9,222.3v4.8M254.9,1.5v4.8M282.7,222.3v2.8M282.7,1.5v2.8M310.4,222.3v4.8M310.4,1.5v4.8M338.2,222.3v2.8M338.2,1.5v2.8M49.7,214.3h-2.8M349.0,214.3h-2.8M49.7,193.8h-4.8M349.0,193.8h-4.8M49.7,173.3h-2.8M349.0,173.3h-2.8M49.7,152.9h-4.8M349.0,152.9h-4.8M49.7,132.4h-2.8M349.0,132.4h-2.8M49.7,111.9h-4.8M349.0,111.9h-4.8M49.7,91.4h-2.8M349.0,91.4h-2.8M49.7,71.0h-4.8M349.0,71.0h-4.8M49.7,50.5h-2.8M349.0,50.5h-2.8M49.7,30.0h-4.8M349.0,30.0h-4.8M49.7,9.5h-2.8M349.0,9.5h-2.8"/><rect x="49.7" y="232.4" width="299.3" height="221.20000000000002"/><path d="M60.6,453.6v2.8M60.6,232.4v2.8M88.4,453.6v4.8M88.4,232.4v4.8M116.1,453.6v2.8M116.1,232.4v2.8M143.9,453.6v4.8M143.9,232.4v4.8M171.6,453.6v2.8M171.6,232.4v2.8M199.4,453.6v4.8M199.4,232.4v4.8M227.2,453.6v2.8M227.2,232.4v2.8M254.9,453.6v4.8M254.9,232.4v4.8M282.7,453.6v2.8M282.7,232.4v2.8M310.4,453.6v4.8M310.4,232.4v4.8M338.2,453.6v2.8M338.2,232.4v2.8M49.7,445.4h-2.8M349.0,445.4h-2.8M49.7,424.9h-4.8M349.0,424.9h-4.8M49.7,404.4h-2.8M349.0,404.4h-2.8M49.7,383.9h-4.8M349.0,383.9h-4.8M49.7,363.5h-2.8M349.0,363.5h-2.8M49.7,343.0h-4.8M349.0,343.0h-4.8M49.7,322.5h-2.8M349.0,322.5h-2.8M49.7,302.1h-4.8M349.0,302.1h-4.8M49.7,281.6h-2.8M349.0,281.6h-2.8M49.7,261.1h-4.8M349.0,261.1h-4.8M49.7,240.6h-2.8M349.0,240.6h-2.8"/></g>
<g font-family="Liberation Sans, sans-serif" font-size="11.5" fill="#1a1a1a"><text x="41.9" y="34.1" text-anchor="end">2.0</text><text x="41.9" y="75.0" text-anchor="end">1.0</text><text x="41.9" y="116.0" text-anchor="end">0.0</text><text x="41.9" y="157.0" text-anchor="end">-1.0</text><text x="41.9" y="197.9" text-anchor="end">-2.0</text><text x="41.9" y="265.2" text-anchor="end">2.0</text><text x="41.9" y="306.2" text-anchor="end">1.0</text><text x="41.9" y="347.1" text-anchor="end">0.0</text><text x="41.9" y="388.1" text-anchor="end">-1.0</text><text x="41.9" y="429.0" text-anchor="end">-2.0</text><text x="88.4" y="470.6" text-anchor="middle">-2.0</text><text x="143.9" y="470.6" text-anchor="middle">-1.0</text><text x="199.4" y="470.6" text-anchor="middle">0.0</text><text x="254.9" y="470.6" text-anchor="middle">1.0</text><text x="310.4" y="470.6" text-anchor="middle">2.0</text></g>
<g font-family="Liberation Sans, sans-serif" font-size="12" fill="#1a1a1a">
<text x="58.6" y="22.2" font-size="11.8">symbols: experimental data</text>
<text x="58.6" y="35.9" font-size="11.8">lines: simulation results</text>
<text x="60.6" y="77.1" font-size="12.6"><tspan font-style="italic">T</tspan> = 25 K</text>
<text x="58.3" y="114.9" font-size="13.2">(a)</text>
<text x="320.2" y="440.6" font-size="13.2">(b)</text>
<text x="112.1" y="251.7" font-size="12.6"><tspan font-style="italic">T</tspan> = 25 K</text>
<text x="112.1" y="267.3" font-size="12.6"><tspan font-style="italic">T</tspan> = 27.5 K</text>
<text x="112.1" y="283.0" font-size="12.6"><tspan font-style="italic">T</tspan> = 30 K</text>
<text x="112.1" y="298.7" font-size="12.6"><tspan font-style="italic">T</tspan> = 32.5 K</text>
<text x="112.1" y="314.4" font-size="12.6"><tspan font-style="italic">T</tspan> = 35 K</text>
<text x="56.8" y="333.6" font-size="11.7">position <tspan font-style="italic">z</tspan></text><text x="107.2" y="337.2" font-size="6.6">1</text>
</g>
<g fill="none" stroke-width="1.1">
<line x1="74" y1="247.3" x2="104.3" y2="247.3" stroke="#80f4ff" stroke-width="1.7"/>
<circle cx="60.6" cy="247.3" r="2" stroke="#e02424"/>
<line x1="74" y1="262.9" x2="104.3" y2="262.9" stroke="#111" stroke-width="1.7"/>
<path d="M60.6,260.09999999999997 L61.4,262.0 L63.4,262.0 L61.800000000000004,263.29999999999995 L62.4,265.4 L60.6,264.09999999999997 L58.800000000000004,265.4 L59.4,263.29999999999995 L57.800000000000004,262.0 L59.800000000000004,262.0Z" fill="#7cf01c" stroke="none"/>
<line x1="74" y1="278.6" x2="104.3" y2="278.6" stroke="#e8801e" stroke-width="1.7"/>
<path d="M58.0,276.6 L63.2,276.6 L60.6,281.0Z" stroke="#2a2af0" stroke-width="1.3"/>
<line x1="74" y1="294.3" x2="104.3" y2="294.3" stroke="#e02424" stroke-width="1.7"/>
<path d="M60.6,291.5 L63.4,294.3 L60.6,297.1 L57.800000000000004,294.3Z" stroke="#555"/>
<line x1="74" y1="310" x2="104.3" y2="310" stroke="#2a2af0" stroke-width="1.7"/>
<path d="M58.2,310 L62.6,307.4 L62.6,312.6Z" stroke="#e000f0" stroke-width="1.3"/>
</g>
<g font-family="Liberation Sans, sans-serif" font-size="14" fill="#1a1a1a">
<g transform="translate(12.1,139.4) rotate(-90)"><text x="0" y="0" font-style="italic" font-size="13.4">B</text><text x="9" y="3.2" font-size="8">z</text><text x="17.2" y="0" font-size="13.6">(T)</text></g>
<g transform="translate(12.1,370.5) rotate(-90)"><text x="0" y="0" font-style="italic" font-size="13.4">B</text><text x="9" y="3.2" font-size="8">z</text><text x="17.2" y="0" font-size="13.6">(T)</text></g>
<text x="169.2" y="489.2" font-size="13">μ</text><text x="175.8" y="493.8" font-size="8.5">0</text><text x="181" y="489.2" font-style="italic" font-size="13">H</text><text x="192.4" y="493.2" font-size="8">appl</text><text x="211.5" y="489.2" font-size="13.5">(T)</text>
</g>
<g>
<rect x="285.1" y="146.8" width="7" height="60" fill="#6a6a6a"/>
<rect x="325" y="146.8" width="7" height="60" fill="#6a6a6a"/>
<line x1="308.1" y1="125.1" x2="308.1" y2="215" stroke="#111" stroke-width="1.2" stroke-dasharray="4.2,4.3"/>
<line x1="295.3" y1="133.1" x2="302.8" y2="133.1" stroke="#e8801e" stroke-width="2.1"/>
<circle cx="308.1" cy="133.1" r="2.5" fill="#fff" stroke="#1a1aff" stroke-width="1.3"/>
<text x="313.6" y="135.7" font-family="Liberation Sans, sans-serif" font-weight="bold" font-size="8" fill="#2222ff">z<tspan font-size="6.5" dy="2.4">4</tspan></text>
<line x1="295.3" y1="146.6" x2="302.8" y2="146.6" stroke="#e02424" stroke-width="2.1"/>
<circle cx="308.1" cy="146.6" r="2.5" fill="#fff" stroke="#3a9a10" stroke-width="1.3"/>
<text x="313.6" y="149.2" font-family="Liberation Sans, sans-serif" font-weight="bold" font-size="8" fill="#5cc020">z<tspan font-size="6.5" dy="2.4">3</tspan></text>
<line x1="295.3" y1="161.3" x2="302.8" y2="161.3" stroke="#6a6a6a" stroke-width="2.1"/>
<circle cx="308.1" cy="161.3" r="2.5" fill="#fff" stroke="#111" stroke-width="1.3"/>
<text x="313.6" y="163.9" font-family="Liberation Sans, sans-serif" font-weight="bold" font-size="8" fill="#111">z<tspan font-size="6.5" dy="2.4">2</tspan></text>
<line x1="295.3" y1="176.1" x2="302.8" y2="176.1" stroke="#80f4ff" stroke-width="2.1"/>
<circle cx="308.1" cy="176.1" r="2.5" fill="#fff" stroke="#d81818" stroke-width="1.3"/>
<text x="313.6" y="178.7" font-family="Liberation Sans, sans-serif" font-weight="bold" font-size="8" fill="#d81818">z<tspan font-size="6.5" dy="2.4">1</tspan></text>
</g>
</svg></body></html>
